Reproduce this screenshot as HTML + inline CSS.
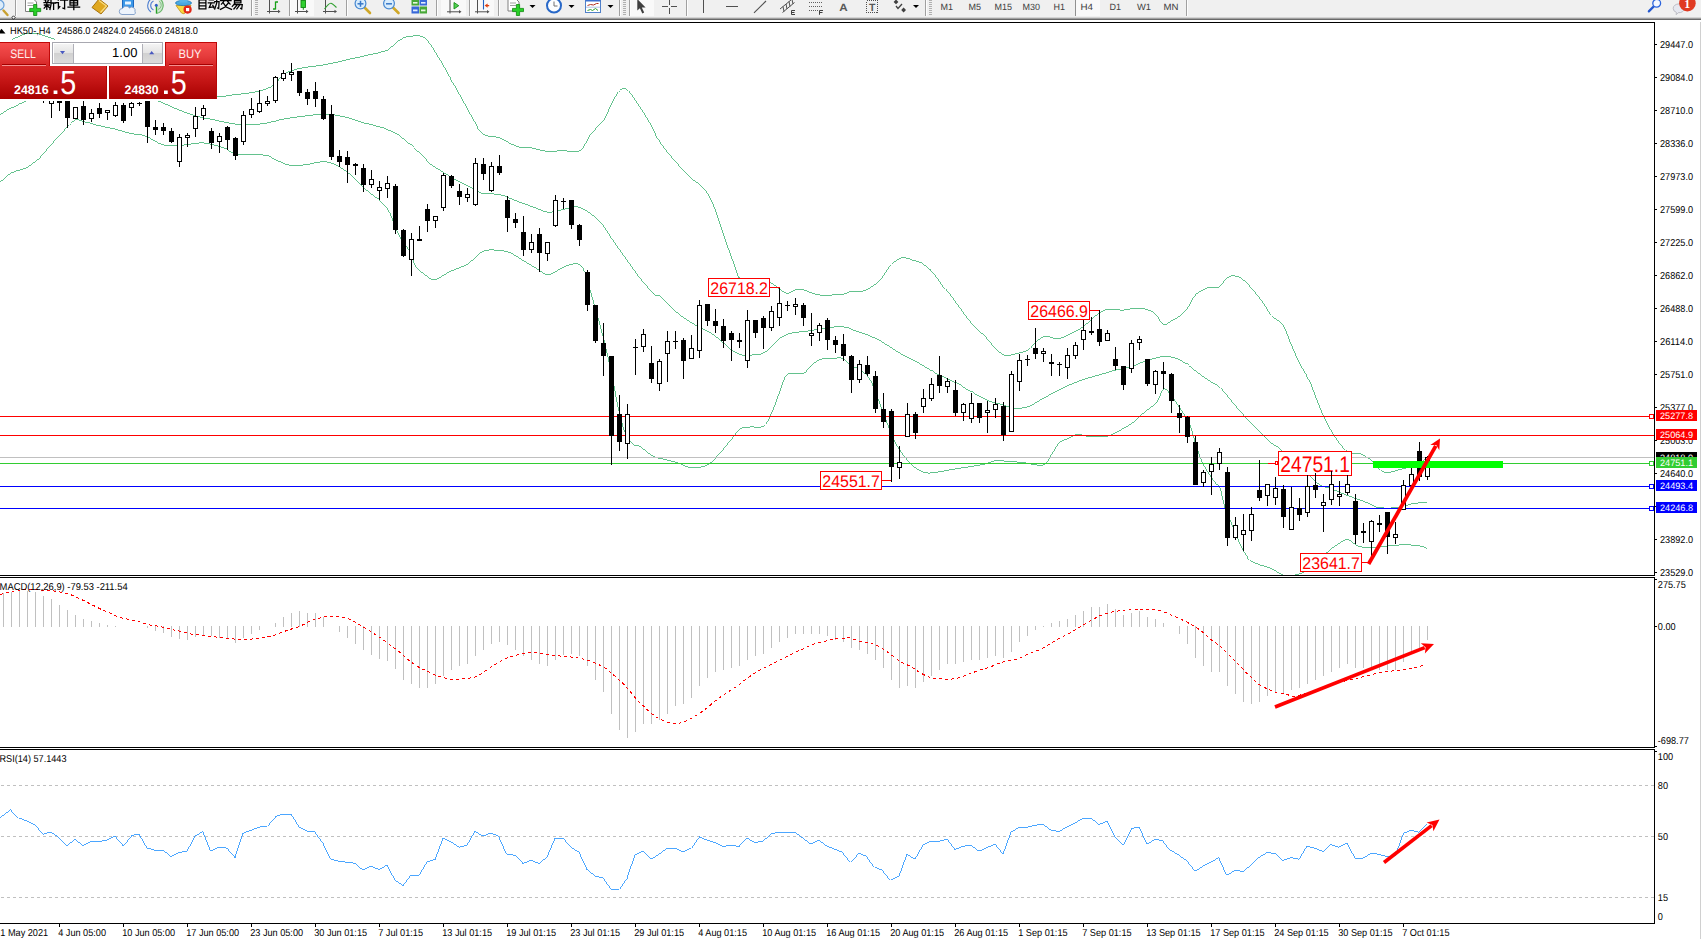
<!DOCTYPE html>
<html><head><meta charset="utf-8"><title>HK50 H4</title>
<style>
html,body{margin:0;padding:0;background:#fff;}
body{width:1701px;height:939px;position:relative;overflow:hidden;font-family:"Liberation Sans", sans-serif;}
</style></head><body>
<svg width="1701" height="939" viewBox="0 0 1701 939" style="position:absolute;left:0;top:0" font-family='"Liberation Sans", sans-serif' text-rendering="geometricPrecision">
<defs><clipPath id="cm"><rect x="0" y="23" width="1654" height="552"/></clipPath><clipPath id="cd"><rect x="0" y="578" width="1654" height="169"/></clipPath><clipPath id="cr"><rect x="0" y="750" width="1654" height="173"/></clipPath></defs>
<g shape-rendering="crispEdges" fill="#000">
<rect x="0" y="22" width="1655" height="1"/>
<rect x="0" y="575" width="1655" height="1"/>
<rect x="1654" y="22" width="1" height="554"/>
<rect x="0" y="577" width="1655" height="1"/>
<rect x="0" y="747" width="1655" height="1"/>
<rect x="1654" y="577" width="1" height="171"/>
<rect x="0" y="749" width="1655" height="1"/>
<rect x="0" y="923" width="1655" height="1"/>
<rect x="1654" y="749" width="1" height="175"/>
<rect x="1655" y="579" width="2" height="1"/>
<rect x="1655" y="626" width="2" height="1"/>
<rect x="1655" y="746" width="2" height="1"/>
<rect x="1655" y="751" width="2" height="1"/>
</g>
<rect x="1700" y="20" width="1" height="919" fill="#d0d0d0" shape-rendering="crispEdges"/>
<g clip-path="url(#cm)">
<path d="M12.0,39.5 C13.4,38.9 17.7,37.0 20.0,36.0 C22.4,35.0 24.2,34.1 26.0,33.6 C27.9,33.2 29.2,33.2 31.0,33.1 C32.9,33.1 34.5,32.8 37.0,33.4 C39.5,34.0 43.1,35.5 46.1,36.5 C49.0,37.5 53.1,38.8 54.5,39.3" fill="none" stroke="#3cb371" stroke-width="0.8" shape-rendering="crispEdges"/>
<path d="M60.1,44.5 C62.6,46.2 67.6,50.0 75.1,54.5 C82.6,59.1 94.3,67.1 105.1,72.1 C116.0,77.1 128.5,81.1 140.2,84.6 C151.9,88.0 162.5,90.9 175.2,92.8 C188.0,94.8 206.8,96.1 216.8,96.3 C226.8,96.6 229.7,95.2 235.3,94.6 C240.9,94.0 245.7,93.6 250.3,92.8 C254.9,92.1 259.1,91.3 262.8,90.1 C266.6,88.9 270.3,87.4 272.8,85.8 C275.3,84.3 275.8,82.9 277.8,80.8 C279.9,78.7 281.6,75.4 285.4,73.3 C289.1,71.2 293.7,69.8 300.4,68.3 C307.1,66.8 317.1,66.1 325.4,64.6 C333.8,63.0 342.1,60.9 350.4,59.0 C358.8,57.2 369.2,54.9 375.5,53.3 C381.7,51.7 383.8,51.8 388.0,49.5 C392.2,47.2 396.7,41.7 400.5,39.5 C404.3,37.3 406.4,36.5 410.5,36.3 C414.6,36.1 420.1,34.3 425.0,38.3 C430.0,42.2 435.9,53.5 440.1,60.0 C444.2,66.5 446.3,70.8 450.1,77.5 C453.8,84.2 458.4,92.5 462.6,100.1 C466.8,107.6 471.5,116.8 475.1,122.6 C478.6,128.3 479.7,132.0 483.9,134.6 C488.0,137.2 494.7,136.1 500.1,138.1 C505.5,140.1 511.4,144.8 516.4,146.4 C521.4,147.9 524.9,146.8 530.2,147.6 C535.4,148.4 542.3,150.9 547.7,151.4 C553.1,151.9 557.4,150.7 562.7,150.6 C568.0,150.5 575.1,153.5 579.7,150.9 C584.3,148.3 586.8,139.6 590.2,135.1 C593.7,130.6 597.7,126.8 600.3,123.8 C602.8,120.9 603.2,121.3 605.3,117.6 C607.3,113.8 610.3,105.8 612.8,101.3 C615.2,96.8 617.5,92.5 619.8,90.5 C622.1,88.5 623.9,87.7 626.5,89.3 C629.1,90.9 631.3,94.3 635.3,100.1 C639.3,105.8 646.1,116.7 650.3,123.8 C654.5,130.9 656.2,136.3 660.3,142.6 C664.5,148.9 670.3,155.5 675.3,161.4 C680.4,167.2 686.2,173.7 690.4,177.6 C694.5,181.6 697.5,182.4 700.4,185.2 C703.3,187.9 705.4,189.7 707.9,193.9 C710.4,198.1 712.5,202.5 715.4,210.2 C718.3,217.9 722.1,230.6 725.4,240.2 C728.7,249.8 733.1,261.5 735.4,267.8 C737.7,274.0 736.7,275.7 739.2,277.8 C741.6,279.8 746.7,279.6 750.2,280.0 C753.8,280.5 756.9,280.1 760.3,280.5 C763.6,280.9 767.3,281.4 770.3,282.5 C773.2,283.7 775.1,285.7 777.8,287.5 C780.5,289.3 783.6,292.9 786.5,293.3 C789.5,293.7 792.6,290.7 795.3,290.0 C798.0,289.4 800.3,289.1 802.8,289.5 C805.3,290.0 807.4,291.6 810.3,292.5 C813.2,293.5 816.8,294.6 820.3,295.0 C823.9,295.5 827.8,295.2 831.6,295.0 C835.3,294.9 839.5,294.9 842.9,294.3 C846.2,293.7 848.7,291.7 851.6,291.3 C854.5,290.9 857.2,292.4 860.4,291.8 C863.5,291.2 867.1,289.5 870.4,287.5 C873.7,285.6 877.5,283.2 880.4,280.0 C883.3,276.9 885.4,271.9 887.9,268.8 C890.4,265.6 892.8,263.1 895.4,261.3 C898.0,259.4 900.7,257.7 903.4,257.5 C906.1,257.3 908.9,259.2 911.7,260.0 C914.5,260.8 917.3,260.8 920.5,262.5 C923.6,264.2 927.1,266.7 930.5,270.0 C933.8,273.4 937.1,278.4 940.5,282.5 C943.8,286.7 947.2,290.7 950.5,295.0 C953.8,299.4 956.7,303.8 960.5,308.8 C964.3,313.8 968.9,320.5 973.0,325.1 C977.1,329.7 981.8,333.0 985.0,336.3 C988.3,339.7 989.4,342.0 992.5,345.1 C995.7,348.2 1000.1,353.7 1003.8,355.1 C1007.6,356.6 1011.1,354.7 1015.1,353.9 C1019.0,353.0 1024.2,352.0 1027.6,350.1 C1030.9,348.2 1032.2,344.9 1035.1,342.6 C1038.0,340.3 1041.4,337.0 1045.1,336.4 C1048.9,335.7 1053.9,339.1 1057.6,338.9 C1061.4,338.7 1064.3,336.6 1067.6,335.1 C1071.0,333.6 1074.7,331.8 1077.6,330.1 C1080.6,328.4 1082.0,327.6 1085.2,325.1 C1088.3,322.6 1092.7,317.7 1096.4,315.1 C1100.2,312.5 1103.3,310.2 1107.7,309.3 C1112.1,308.5 1117.5,310.3 1122.7,310.1 C1127.9,309.9 1133.8,307.7 1139.0,308.1 C1144.2,308.5 1149.9,309.9 1154.0,312.6 C1158.0,315.3 1160.1,323.1 1163.3,324.3 C1166.4,325.6 1169.9,321.5 1172.8,320.1 C1175.6,318.6 1177.8,317.7 1180.3,315.6 C1182.8,313.5 1185.3,311.0 1187.8,307.6 C1190.3,304.2 1192.6,298.1 1195.3,295.1 C1198.0,292.0 1201.6,290.6 1204.1,289.3 C1206.6,288.0 1207.8,287.9 1210.3,287.5 C1212.8,287.2 1216.4,288.6 1219.1,287.0 C1221.8,285.5 1224.1,280.2 1226.6,278.3 C1229.1,276.4 1231.4,275.6 1234.1,275.8 C1236.8,276.0 1239.5,277.0 1242.9,279.5 C1246.2,282.1 1250.8,287.5 1254.1,291.3 C1257.5,295.1 1260.0,298.5 1262.9,302.6 C1265.8,306.6 1268.3,311.8 1271.6,315.6 C1275.0,319.3 1279.8,320.6 1282.9,325.1 C1286.0,329.6 1287.7,336.4 1290.4,342.6 C1293.1,348.9 1296.0,356.4 1299.2,362.6 C1302.3,368.9 1306.1,373.5 1309.2,380.2 C1312.3,386.8 1315.2,396.0 1317.9,402.7 C1320.7,409.4 1322.5,414.4 1325.5,420.2 C1328.4,426.1 1332.1,432.7 1335.5,437.7 C1338.8,442.7 1342.8,447.7 1345.5,450.3 C1348.2,452.8 1349.2,452.6 1351.7,453.3 C1354.2,453.9 1357.0,452.6 1360.5,454.0 C1364.0,455.4 1369.7,458.8 1373.0,461.5 C1376.4,464.2 1378.5,468.5 1380.5,470.3 C1382.5,472.1 1383.5,471.9 1385.0,472.3 C1386.6,472.6 1386.6,473.1 1389.9,472.4 C1393.2,471.7 1401.2,469.0 1404.9,468.2 C1408.5,467.3 1409.4,468.0 1411.9,467.2 C1414.4,466.3 1417.3,464.5 1419.9,463.0 C1422.4,461.4 1426.0,458.8 1427.3,458.0" fill="none" stroke="#3cb371" stroke-width="0.8" shape-rendering="crispEdges"/>
<path d="M0.0,114.6 C2.1,113.4 8.3,109.3 12.5,107.1 C16.7,104.9 20.4,103.7 25.0,101.6 C29.6,99.5 27.5,96.0 40.1,94.6 C52.6,93.2 83.4,92.9 100.1,93.3 C116.8,93.8 130.6,95.8 140.2,97.1 C149.8,98.3 151.9,99.0 157.7,100.8 C163.5,102.7 169.0,105.9 175.2,108.4 C181.5,110.9 189.0,114.0 195.2,115.9 C201.5,117.7 206.1,118.2 212.8,119.6 C219.4,121.0 229.0,123.3 235.3,124.1 C241.6,125.0 245.3,124.8 250.3,124.6 C255.3,124.5 260.3,124.2 265.3,123.4 C270.3,122.5 274.5,120.7 280.4,119.6 C286.2,118.5 293.3,117.5 300.4,116.6 C307.5,115.7 317.1,114.4 322.9,114.1 C328.7,113.9 330.8,114.4 335.4,115.1 C340.0,115.8 345.4,117.0 350.4,118.4 C355.4,119.7 360.5,121.9 365.5,123.4 C370.5,124.8 375.5,125.5 380.5,127.1 C385.5,128.8 390.5,130.5 395.5,133.4 C400.5,136.3 405.6,140.5 410.5,144.7 C415.4,148.8 421.8,155.2 425.0,158.4 C428.3,161.6 426.9,161.5 430.0,163.9 C433.2,166.2 439.2,169.8 443.8,172.6 C448.4,175.5 452.8,178.3 457.6,180.9 C462.4,183.5 468.4,186.3 472.6,188.4 C476.8,190.5 478.0,192.4 482.6,193.4 C487.2,194.5 494.3,193.3 500.1,194.7 C506.0,196.0 511.8,199.3 517.6,201.4 C523.5,203.6 530.2,205.9 535.2,207.7 C540.2,209.5 543.5,211.8 547.7,212.2 C551.9,212.6 556.0,211.0 560.2,210.2 C564.4,209.4 569.4,207.6 572.7,207.2 C576.1,206.8 576.9,206.3 580.2,207.7 C583.6,209.0 589.0,212.3 592.7,215.2 C596.5,218.1 599.4,221.0 602.8,225.2 C606.1,229.4 609.0,234.8 612.8,240.2 C616.5,245.6 621.1,251.9 625.3,257.7 C629.5,263.6 633.6,269.8 637.8,275.3 C642.0,280.7 647.4,287.0 650.3,290.3 C653.2,293.6 653.7,294.3 655.3,295.3 C657.0,296.3 657.2,294.0 660.1,296.3 C663.0,298.5 668.5,305.1 672.6,308.8 C676.8,312.6 681.0,315.9 685.2,318.8 C689.3,321.7 693.5,324.0 697.7,326.3 C701.8,328.6 706.4,330.3 710.2,332.6 C713.9,334.9 716.9,337.4 720.2,340.1 C723.5,342.8 726.9,346.4 730.2,348.9 C733.6,351.3 736.9,353.6 740.2,354.6 C743.6,355.7 746.5,355.3 750.2,355.1 C754.0,354.9 759.0,355.0 762.8,353.4 C766.5,351.7 769.8,347.7 772.8,345.1 C775.7,342.6 777.4,340.1 780.3,338.1 C783.2,336.1 787.0,334.4 790.3,333.3 C793.6,332.3 797.0,332.3 800.3,331.8 C803.6,331.4 807.0,331.3 810.3,330.8 C813.7,330.3 816.6,329.5 820.3,328.8 C824.1,328.2 828.7,327.4 832.8,327.1 C837.0,326.8 841.6,326.5 845.4,327.1 C849.1,327.7 851.6,329.5 855.4,330.8 C859.1,332.2 863.7,333.4 867.9,335.1 C872.1,336.8 876.2,338.6 880.4,340.9 C884.6,343.1 888.7,346.3 892.9,348.9 C897.1,351.4 901.3,354.1 905.4,356.4 C909.6,358.7 913.8,360.3 917.9,362.6 C922.1,364.9 926.7,368.0 930.5,370.1 C934.2,372.3 936.3,373.6 940.5,375.6 C944.6,377.7 950.5,380.0 955.5,382.7 C960.5,385.3 965.6,388.7 970.5,391.4 C975.4,394.1 981.8,397.3 985.0,398.9 C988.3,400.6 987.1,400.5 990.0,401.4 C993.0,402.4 998.6,403.6 1002.6,404.7 C1006.5,405.8 1009.6,407.8 1013.8,408.2 C1018.0,408.6 1023.2,408.3 1027.6,406.9 C1032.0,405.6 1035.5,402.7 1040.1,400.2 C1044.7,397.7 1050.1,394.5 1055.1,391.9 C1060.1,389.3 1065.1,386.8 1070.1,384.7 C1075.1,382.5 1080.2,380.6 1085.2,378.9 C1090.2,377.2 1095.2,376.1 1100.2,374.7 C1105.2,373.2 1110.2,371.4 1115.2,370.2 C1120.2,368.9 1126.0,368.1 1130.2,366.9 C1134.4,365.7 1136.5,364.5 1140.2,363.1 C1144.0,361.8 1148.8,360.0 1152.7,358.9 C1156.7,357.8 1160.3,356.5 1164.0,356.4 C1167.8,356.3 1171.5,356.9 1175.3,358.1 C1179.0,359.4 1182.8,361.5 1186.5,363.9 C1190.3,366.3 1193.8,369.7 1197.8,372.7 C1201.8,375.6 1206.6,378.9 1210.3,381.4 C1214.1,383.9 1216.6,384.1 1220.3,387.7 C1224.1,391.2 1228.7,397.8 1232.8,402.7 C1237.0,407.6 1241.2,412.6 1245.4,417.2 C1249.5,421.8 1253.7,426.1 1257.9,430.2 C1262.0,434.4 1266.6,439.1 1270.4,442.2 C1274.1,445.4 1276.5,445.5 1280.4,449.0 C1284.3,452.5 1289.0,458.5 1293.9,463.0 C1298.9,467.5 1305.6,472.3 1309.9,476.0 C1314.3,479.6 1316.3,482.8 1319.9,485.0 C1323.6,487.1 1327.6,487.3 1331.9,489.0 C1336.2,490.6 1341.2,493.1 1345.9,495.0 C1350.6,496.8 1355.9,498.5 1359.9,500.0 C1363.9,501.5 1366.9,502.7 1369.9,503.9 C1372.9,505.2 1373.9,506.9 1377.9,507.5 C1381.9,508.2 1389.5,508.2 1393.9,507.9 C1398.2,507.7 1400.5,506.7 1403.9,505.9 C1407.2,505.2 1410.0,504.2 1413.9,503.5 C1417.8,502.9 1425.0,502.2 1427.3,502.0" fill="none" stroke="#3cb371" stroke-width="0.8" shape-rendering="crispEdges"/>
<path d="M0.0,182.2 C2.1,180.5 8.3,174.5 12.5,172.2 C16.7,169.9 20.9,170.5 25.0,168.4 C29.2,166.3 33.4,163.4 37.5,159.7 C41.7,155.9 45.9,150.5 50.1,145.9 C54.2,141.3 58.4,136.4 62.6,132.1 C66.8,127.8 71.3,121.8 75.1,120.1 C78.8,118.5 80.9,121.2 85.1,122.1 C89.3,123.1 95.1,124.7 100.1,125.9 C105.1,127.0 110.1,127.9 115.1,129.1 C120.2,130.4 125.2,132.3 130.2,133.4 C135.2,134.5 139.8,134.0 145.2,135.9 C150.6,137.8 156.9,143.1 162.7,144.7 C168.5,146.2 174.0,145.7 180.2,145.4 C186.5,145.1 194.8,143.0 200.3,142.9 C205.7,142.8 208.6,143.7 212.8,144.7 C216.9,145.6 221.3,146.8 225.3,148.4 C229.2,150.0 229.9,153.0 236.5,154.2 C243.2,155.3 258.9,154.2 265.3,155.2 C271.8,156.1 271.2,158.0 275.3,159.7 C279.5,161.4 285.4,164.6 290.4,165.4 C295.4,166.3 300.0,165.3 305.4,164.7 C310.8,164.1 317.9,161.7 322.9,161.7 C327.9,161.7 330.8,162.5 335.4,164.7 C340.0,166.8 345.8,170.9 350.4,174.7 C355.0,178.4 358.8,183.5 363.0,187.2 C367.1,191.0 371.3,193.5 375.5,197.2 C379.6,201.0 384.6,204.7 388.0,209.7 C391.3,214.7 393.0,221.8 395.5,227.3 C398.0,232.7 400.5,238.1 403.0,242.3 C405.5,246.4 408.5,248.5 410.5,252.3 C412.5,256.1 412.6,261.5 415.0,265.3 C417.4,269.0 421.7,272.4 425.0,274.8 C428.4,277.1 430.9,280.1 435.0,279.5 C439.2,279.0 444.6,274.1 450.1,271.5 C455.5,268.9 462.2,267.3 467.6,264.0 C473.0,260.7 477.6,253.8 482.6,251.5 C487.6,249.2 493.0,250.0 497.6,250.2 C502.2,250.4 506.0,251.1 510.1,252.7 C514.3,254.4 518.5,257.7 522.7,260.3 C526.8,262.8 531.0,265.4 535.2,267.8 C539.3,270.1 543.5,274.3 547.7,274.5 C551.9,274.7 556.4,270.7 560.2,269.0 C564.0,267.3 567.1,265.3 570.2,264.5 C573.3,263.8 576.5,263.1 579.0,264.5 C581.5,265.9 583.1,267.6 585.2,272.8 C587.3,277.9 589.0,286.6 591.5,295.3 C594.0,304.0 597.4,315.1 600.1,325.1 C602.7,335.1 605.3,345.1 607.6,355.1 C609.9,365.1 611.9,376.0 613.8,385.2 C615.7,394.3 616.9,402.3 618.8,410.2 C620.7,418.1 622.8,427.1 625.1,432.7 C627.4,438.3 630.1,441.7 632.6,444.0 C635.1,446.3 636.8,444.5 640.1,446.5 C643.4,448.5 648.4,453.8 652.6,456.0 C656.8,458.2 661.0,458.4 665.1,459.5 C669.3,460.6 673.3,461.4 677.6,462.8 C682.0,464.1 686.4,467.4 691.4,467.8 C696.4,468.1 702.9,467.3 707.7,464.8 C712.5,462.3 716.0,457.2 720.2,452.7 C724.4,448.2 729.4,441.7 732.7,437.7 C736.1,433.8 737.3,430.8 740.2,429.0 C743.1,427.2 746.3,427.5 750.2,427.0 C754.2,426.4 760.3,428.5 764.0,425.7 C767.8,422.9 770.1,416.1 772.8,410.2 C775.5,404.3 778.0,396.0 780.3,390.2 C782.6,384.3 784.0,377.9 786.5,375.1 C789.0,372.3 792.4,373.7 795.3,373.4 C798.2,373.1 801.6,374.3 804.1,373.1 C806.6,372.0 807.6,368.7 810.3,366.4 C813.0,364.1 816.6,360.7 820.3,359.4 C824.1,358.0 829.1,358.5 832.8,358.4 C836.6,358.2 839.9,357.2 842.9,358.4 C845.8,359.5 847.4,363.2 850.4,365.1 C853.3,367.1 857.0,367.6 860.4,370.1 C863.7,372.6 867.1,374.3 870.4,380.2 C873.7,386.0 877.5,397.7 880.4,405.2 C883.3,412.7 885.4,418.9 887.9,425.2 C890.4,431.5 892.5,437.3 895.4,442.7 C898.3,448.2 902.1,453.6 905.4,457.7 C908.8,461.9 912.1,465.3 915.4,467.8 C918.8,470.3 922.1,472.0 925.5,472.8 C928.8,473.5 931.3,472.8 935.5,472.3 C939.6,471.8 945.5,470.6 950.5,469.8 C955.5,468.9 959.7,468.2 965.5,467.3 C971.3,466.3 980.1,465.1 985.0,464.0 C990.0,462.9 990.9,461.2 995.0,460.8 C999.2,460.3 1005.1,461.2 1010.1,461.5 C1015.1,461.8 1020.9,462.2 1025.1,462.8 C1029.3,463.3 1031.8,464.6 1035.1,464.8 C1038.4,465.0 1042.2,466.0 1045.1,464.0 C1048.0,462.0 1050.1,456.4 1052.6,452.8 C1055.1,449.1 1057.2,444.7 1060.1,442.2 C1063.0,439.7 1067.2,439.0 1070.1,437.7 C1073.1,436.4 1074.3,434.7 1077.6,434.5 C1081.0,434.3 1085.2,436.2 1090.2,436.5 C1095.2,436.7 1102.7,437.0 1107.7,436.0 C1112.7,434.9 1116.0,432.4 1120.2,430.2 C1124.4,428.0 1128.5,425.8 1132.7,422.7 C1136.9,419.6 1141.3,414.8 1145.2,411.5 C1149.2,408.1 1153.4,406.4 1156.5,402.7 C1159.6,398.9 1161.3,389.8 1164.0,388.9 C1166.7,388.1 1170.1,394.3 1172.8,397.7 C1175.5,401.0 1177.6,404.8 1180.3,408.9 C1183.0,413.1 1186.5,417.1 1189.0,422.7 C1191.5,428.3 1193.4,436.9 1195.3,442.7 C1197.2,448.6 1198.4,453.2 1200.3,457.8 C1202.2,462.3 1204.1,466.1 1206.6,470.3 C1209.1,474.4 1213.1,479.8 1215.3,482.8 C1217.6,485.7 1218.4,483.8 1220.0,488.0 C1221.6,492.2 1223.3,502.6 1225.0,507.9 C1226.6,513.3 1228.3,515.9 1230.0,519.9 C1231.6,523.9 1233.0,527.3 1235.0,531.9 C1237.0,536.6 1239.5,543.3 1242.0,547.9 C1244.5,552.6 1247.0,557.1 1250.0,559.9 C1253.0,562.7 1256.6,563.6 1260.0,564.9 C1263.3,566.2 1266.1,566.2 1269.9,567.9 C1273.8,569.6 1279.8,573.6 1282.9,574.9 C1286.1,576.2 1286.9,575.9 1288.9,575.9 C1290.9,575.9 1292.4,575.6 1294.9,574.9 C1297.4,574.2 1300.4,573.9 1303.9,571.9 C1307.4,569.9 1311.6,566.6 1315.9,562.9 C1320.2,559.2 1325.9,553.3 1329.9,549.9 C1333.9,546.6 1336.9,544.7 1339.9,542.9 C1342.9,541.2 1345.2,539.2 1347.9,539.5 C1350.6,539.9 1353.2,543.6 1355.9,544.9 C1358.6,546.3 1361.2,547.0 1363.9,547.5 C1366.6,548.0 1369.2,548.1 1371.9,547.9 C1374.5,547.7 1376.9,546.7 1379.9,546.3 C1382.9,546.0 1386.5,546.2 1389.9,545.9 C1393.2,545.7 1396.5,545.1 1399.9,544.9 C1403.2,544.8 1406.5,544.8 1409.9,544.9 C1413.2,545.1 1417.0,545.4 1419.9,545.9 C1422.8,546.5 1426.0,547.9 1427.3,548.3" fill="none" stroke="#3cb371" stroke-width="0.8" shape-rendering="crispEdges"/>
<g shape-rendering="crispEdges">
<rect x="0" y="416" width="1654" height="1" fill="#ff0000"/>
<rect x="0" y="435" width="1654" height="1" fill="#ff0000"/>
<rect x="0" y="457" width="1654" height="1" fill="#c0c0c0"/>
<rect x="0" y="463" width="1654" height="1" fill="#32cd32"/>
<rect x="0" y="486" width="1654" height="1" fill="#0000ff"/>
<rect x="0" y="508" width="1654" height="1" fill="#0000ff"/>
</g>
<rect x="708.5" y="278.5" width="61" height="18" fill="#fff" stroke="#ff0000" stroke-width="1" shape-rendering="crispEdges"/>
<text x="739.1" y="294.1" font-size="16.9" fill="#ff0000" text-anchor="middle" textLength="57.6" lengthAdjust="spacingAndGlyphs">26718.2</text>
<rect x="770" y="287" width="10" height="1" fill="#ff0000" shape-rendering="crispEdges"/>
<rect x="820.5" y="471.5" width="61" height="18" fill="#fff" stroke="#ff0000" stroke-width="1" shape-rendering="crispEdges"/>
<text x="851.1" y="487.1" font-size="16.9" fill="#ff0000" text-anchor="middle" textLength="57.6" lengthAdjust="spacingAndGlyphs">24551.7</text>
<rect x="882" y="480" width="9" height="1" fill="#ff0000" shape-rendering="crispEdges"/>
<rect x="1028.5" y="301.5" width="61" height="18" fill="#fff" stroke="#ff0000" stroke-width="1" shape-rendering="crispEdges"/>
<text x="1059.1" y="317.1" font-size="16.9" fill="#ff0000" text-anchor="middle" textLength="57.6" lengthAdjust="spacingAndGlyphs">26466.9</text>
<rect x="1090" y="310" width="9" height="1" fill="#ff0000" shape-rendering="crispEdges"/>
<rect x="1300.5" y="553.5" width="61" height="18" fill="#fff" stroke="#ff0000" stroke-width="1" shape-rendering="crispEdges"/>
<text x="1331.1" y="569.1" font-size="16.9" fill="#ff0000" text-anchor="middle" textLength="57.6" lengthAdjust="spacingAndGlyphs">23641.7</text>
<rect x="1362" y="562" width="7" height="1" fill="#ff0000" shape-rendering="crispEdges"/>
<rect x="1278.5" y="451.5" width="73" height="24" fill="#fff" stroke="#ff0000" stroke-width="1" shape-rendering="crispEdges"/>
<text x="1315.1" y="472.0" font-size="22.5" fill="#ff0000" text-anchor="middle" textLength="69.6" lengthAdjust="spacingAndGlyphs">24751.1</text>
<rect x="1268" y="463" width="8" height="1" fill="#ff0000" shape-rendering="crispEdges"/><rect x="1275.5" y="461.5" width="2" height="3" fill="#fff" stroke="#ff0000" stroke-width="1" shape-rendering="crispEdges"/>
<g shape-rendering="crispEdges">
<rect x="43" y="85" width="1" height="18" fill="#000"/>
<rect x="41" y="86" width="5" height="11" fill="#000"/>
<rect x="51" y="85" width="1" height="33" fill="#000"/>
<rect x="49" y="95" width="5" height="9" fill="#000"/>
<rect x="50" y="96" width="3" height="7" fill="#fff"/>
<rect x="59" y="85" width="1" height="26" fill="#000"/>
<rect x="57" y="97" width="5" height="6" fill="#000"/>
<rect x="67" y="96" width="1" height="32" fill="#000"/>
<rect x="65" y="99" width="5" height="19" fill="#000"/>
<rect x="75" y="107" width="1" height="12" fill="#000"/>
<rect x="73" y="107" width="5" height="12" fill="#000"/>
<rect x="74" y="108" width="3" height="10" fill="#fff"/>
<rect x="83" y="101" width="1" height="24" fill="#000"/>
<rect x="81" y="106" width="5" height="14" fill="#000"/>
<rect x="91" y="109" width="1" height="13" fill="#000"/>
<rect x="89" y="113" width="5" height="6" fill="#000"/>
<rect x="90" y="114" width="3" height="4" fill="#fff"/>
<rect x="99" y="103" width="1" height="15" fill="#000"/>
<rect x="97" y="108" width="5" height="6" fill="#000"/>
<rect x="107" y="110" width="1" height="10" fill="#000"/>
<rect x="105" y="110" width="5" height="3" fill="#000"/>
<rect x="106" y="111" width="3" height="1" fill="#fff"/>
<rect x="115" y="102" width="1" height="15" fill="#000"/>
<rect x="113" y="105" width="5" height="11" fill="#000"/>
<rect x="114" y="106" width="3" height="9" fill="#fff"/>
<rect x="123" y="103" width="1" height="20" fill="#000"/>
<rect x="121" y="105" width="5" height="16" fill="#000"/>
<rect x="131" y="102" width="1" height="14" fill="#000"/>
<rect x="129" y="103" width="5" height="5" fill="#000"/>
<rect x="130" y="104" width="3" height="3" fill="#fff"/>
<rect x="139" y="102" width="1" height="4" fill="#000"/>
<rect x="137" y="103" width="5" height="1" fill="#000"/>
<rect x="147" y="97" width="1" height="46" fill="#000"/>
<rect x="145" y="101" width="5" height="26" fill="#000"/>
<rect x="155" y="120" width="1" height="15" fill="#000"/>
<rect x="153" y="127" width="5" height="3" fill="#000"/>
<rect x="163" y="123" width="1" height="12" fill="#000"/>
<rect x="161" y="127" width="5" height="4" fill="#000"/>
<rect x="171" y="128" width="1" height="15" fill="#000"/>
<rect x="169" y="131" width="5" height="11" fill="#000"/>
<rect x="179" y="134" width="1" height="33" fill="#000"/>
<rect x="177" y="137" width="5" height="25" fill="#000"/>
<rect x="178" y="138" width="3" height="23" fill="#fff"/>
<rect x="187" y="133" width="1" height="14" fill="#000"/>
<rect x="185" y="135" width="5" height="3" fill="#000"/>
<rect x="186" y="136" width="3" height="1" fill="#fff"/>
<rect x="195" y="107" width="1" height="30" fill="#000"/>
<rect x="193" y="116" width="5" height="13" fill="#000"/>
<rect x="194" y="117" width="3" height="11" fill="#fff"/>
<rect x="203" y="105" width="1" height="15" fill="#000"/>
<rect x="201" y="108" width="5" height="8" fill="#000"/>
<rect x="202" y="109" width="3" height="6" fill="#fff"/>
<rect x="211" y="128" width="1" height="21" fill="#000"/>
<rect x="209" y="131" width="5" height="12" fill="#000"/>
<rect x="219" y="133" width="1" height="20" fill="#000"/>
<rect x="217" y="136" width="5" height="6" fill="#000"/>
<rect x="218" y="137" width="3" height="4" fill="#fff"/>
<rect x="227" y="126" width="1" height="24" fill="#000"/>
<rect x="225" y="127" width="5" height="13" fill="#000"/>
<rect x="235" y="137" width="1" height="23" fill="#000"/>
<rect x="233" y="138" width="5" height="18" fill="#000"/>
<rect x="243" y="111" width="1" height="34" fill="#000"/>
<rect x="241" y="115" width="5" height="27" fill="#000"/>
<rect x="242" y="116" width="3" height="25" fill="#fff"/>
<rect x="251" y="98" width="1" height="20" fill="#000"/>
<rect x="249" y="109" width="5" height="6" fill="#000"/>
<rect x="250" y="110" width="3" height="4" fill="#fff"/>
<rect x="259" y="90" width="1" height="23" fill="#000"/>
<rect x="257" y="103" width="5" height="9" fill="#000"/>
<rect x="258" y="104" width="3" height="7" fill="#fff"/>
<rect x="267" y="96" width="1" height="10" fill="#000"/>
<rect x="265" y="101" width="5" height="3" fill="#000"/>
<rect x="266" y="102" width="3" height="1" fill="#fff"/>
<rect x="275" y="76" width="1" height="27" fill="#000"/>
<rect x="273" y="77" width="5" height="24" fill="#000"/>
<rect x="274" y="78" width="3" height="22" fill="#fff"/>
<rect x="283" y="70" width="1" height="11" fill="#000"/>
<rect x="281" y="73" width="5" height="6" fill="#000"/>
<rect x="282" y="74" width="3" height="4" fill="#fff"/>
<rect x="291" y="63" width="1" height="18" fill="#000"/>
<rect x="289" y="72" width="5" height="3" fill="#000"/>
<rect x="290" y="73" width="3" height="1" fill="#fff"/>
<rect x="299" y="71" width="1" height="25" fill="#000"/>
<rect x="297" y="71" width="5" height="22" fill="#000"/>
<rect x="307" y="89" width="1" height="16" fill="#000"/>
<rect x="305" y="92" width="5" height="7" fill="#000"/>
<rect x="315" y="82" width="1" height="25" fill="#000"/>
<rect x="313" y="91" width="5" height="8" fill="#000"/>
<rect x="323" y="96" width="1" height="24" fill="#000"/>
<rect x="321" y="99" width="5" height="20" fill="#000"/>
<rect x="331" y="105" width="1" height="55" fill="#000"/>
<rect x="329" y="114" width="5" height="43" fill="#000"/>
<rect x="339" y="150" width="1" height="17" fill="#000"/>
<rect x="337" y="156" width="5" height="6" fill="#000"/>
<rect x="347" y="151" width="1" height="32" fill="#000"/>
<rect x="345" y="157" width="5" height="8" fill="#000"/>
<rect x="355" y="163" width="1" height="12" fill="#000"/>
<rect x="353" y="164" width="5" height="2" fill="#000"/>
<rect x="363" y="164" width="1" height="28" fill="#000"/>
<rect x="361" y="168" width="5" height="17" fill="#000"/>
<rect x="371" y="170" width="1" height="18" fill="#000"/>
<rect x="369" y="179" width="5" height="6" fill="#000"/>
<rect x="370" y="180" width="3" height="4" fill="#fff"/>
<rect x="379" y="181" width="1" height="19" fill="#000"/>
<rect x="377" y="187" width="5" height="4" fill="#000"/>
<rect x="378" y="188" width="3" height="2" fill="#fff"/>
<rect x="387" y="176" width="1" height="22" fill="#000"/>
<rect x="385" y="183" width="5" height="6" fill="#000"/>
<rect x="386" y="184" width="3" height="4" fill="#fff"/>
<rect x="395" y="184" width="1" height="50" fill="#000"/>
<rect x="393" y="186" width="5" height="44" fill="#000"/>
<rect x="403" y="229" width="1" height="28" fill="#000"/>
<rect x="401" y="230" width="5" height="26" fill="#000"/>
<rect x="411" y="233" width="1" height="43" fill="#000"/>
<rect x="409" y="239" width="5" height="21" fill="#000"/>
<rect x="410" y="240" width="3" height="19" fill="#fff"/>
<rect x="419" y="226" width="1" height="15" fill="#000"/>
<rect x="417" y="239" width="5" height="2" fill="#000"/>
<rect x="427" y="204" width="1" height="28" fill="#000"/>
<rect x="425" y="209" width="5" height="12" fill="#000"/>
<rect x="435" y="216" width="1" height="12" fill="#000"/>
<rect x="433" y="216" width="5" height="5" fill="#000"/>
<rect x="434" y="217" width="3" height="3" fill="#fff"/>
<rect x="443" y="173" width="1" height="38" fill="#000"/>
<rect x="441" y="175" width="5" height="33" fill="#000"/>
<rect x="442" y="176" width="3" height="31" fill="#fff"/>
<rect x="451" y="175" width="1" height="13" fill="#000"/>
<rect x="449" y="176" width="5" height="10" fill="#000"/>
<rect x="459" y="184" width="1" height="21" fill="#000"/>
<rect x="457" y="191" width="5" height="6" fill="#000"/>
<rect x="467" y="188" width="1" height="14" fill="#000"/>
<rect x="465" y="194" width="5" height="4" fill="#000"/>
<rect x="466" y="195" width="3" height="2" fill="#fff"/>
<rect x="475" y="158" width="1" height="48" fill="#000"/>
<rect x="473" y="163" width="5" height="42" fill="#000"/>
<rect x="474" y="164" width="3" height="40" fill="#fff"/>
<rect x="483" y="158" width="1" height="22" fill="#000"/>
<rect x="481" y="164" width="5" height="10" fill="#000"/>
<rect x="491" y="162" width="1" height="30" fill="#000"/>
<rect x="489" y="166" width="5" height="25" fill="#000"/>
<rect x="490" y="167" width="3" height="23" fill="#fff"/>
<rect x="499" y="155" width="1" height="20" fill="#000"/>
<rect x="497" y="166" width="5" height="7" fill="#000"/>
<rect x="507" y="196" width="1" height="36" fill="#000"/>
<rect x="505" y="200" width="5" height="18" fill="#000"/>
<rect x="515" y="213" width="1" height="15" fill="#000"/>
<rect x="513" y="219" width="5" height="4" fill="#000"/>
<rect x="523" y="216" width="1" height="40" fill="#000"/>
<rect x="521" y="232" width="5" height="18" fill="#000"/>
<rect x="531" y="234" width="1" height="19" fill="#000"/>
<rect x="529" y="242" width="5" height="8" fill="#000"/>
<rect x="530" y="243" width="3" height="6" fill="#fff"/>
<rect x="539" y="228" width="1" height="44" fill="#000"/>
<rect x="537" y="234" width="5" height="19" fill="#000"/>
<rect x="547" y="242" width="1" height="19" fill="#000"/>
<rect x="545" y="242" width="5" height="12" fill="#000"/>
<rect x="546" y="243" width="3" height="10" fill="#fff"/>
<rect x="555" y="195" width="1" height="32" fill="#000"/>
<rect x="553" y="200" width="5" height="26" fill="#000"/>
<rect x="554" y="201" width="3" height="24" fill="#fff"/>
<rect x="563" y="198" width="1" height="11" fill="#000"/>
<rect x="561" y="201" width="5" height="1" fill="#000"/>
<rect x="571" y="200" width="1" height="29" fill="#000"/>
<rect x="569" y="200" width="5" height="25" fill="#000"/>
<rect x="579" y="224" width="1" height="22" fill="#000"/>
<rect x="577" y="225" width="5" height="15" fill="#000"/>
<rect x="587" y="270" width="1" height="41" fill="#000"/>
<rect x="585" y="272" width="5" height="33" fill="#000"/>
<rect x="595" y="305" width="1" height="38" fill="#000"/>
<rect x="593" y="305" width="5" height="36" fill="#000"/>
<rect x="603" y="323" width="1" height="53" fill="#000"/>
<rect x="601" y="343" width="5" height="13" fill="#000"/>
<rect x="611" y="356" width="1" height="109" fill="#000"/>
<rect x="609" y="356" width="5" height="80" fill="#000"/>
<rect x="619" y="395" width="1" height="56" fill="#000"/>
<rect x="617" y="414" width="5" height="28" fill="#000"/>
<rect x="627" y="404" width="1" height="55" fill="#000"/>
<rect x="625" y="414" width="5" height="30" fill="#000"/>
<rect x="626" y="415" width="3" height="28" fill="#fff"/>
<rect x="635" y="339" width="1" height="36" fill="#000"/>
<rect x="633" y="347" width="5" height="1" fill="#000"/>
<rect x="643" y="329" width="1" height="23" fill="#000"/>
<rect x="641" y="334" width="5" height="13" fill="#000"/>
<rect x="642" y="335" width="3" height="11" fill="#fff"/>
<rect x="651" y="346" width="1" height="37" fill="#000"/>
<rect x="649" y="363" width="5" height="16" fill="#000"/>
<rect x="659" y="359" width="1" height="32" fill="#000"/>
<rect x="657" y="361" width="5" height="23" fill="#000"/>
<rect x="658" y="362" width="3" height="21" fill="#fff"/>
<rect x="667" y="331" width="1" height="51" fill="#000"/>
<rect x="665" y="341" width="5" height="13" fill="#000"/>
<rect x="666" y="342" width="3" height="11" fill="#fff"/>
<rect x="675" y="331" width="1" height="18" fill="#000"/>
<rect x="673" y="341" width="5" height="1" fill="#000"/>
<rect x="683" y="338" width="1" height="41" fill="#000"/>
<rect x="681" y="340" width="5" height="21" fill="#000"/>
<rect x="691" y="335" width="1" height="24" fill="#000"/>
<rect x="689" y="348" width="5" height="11" fill="#000"/>
<rect x="690" y="349" width="3" height="9" fill="#fff"/>
<rect x="699" y="300" width="1" height="58" fill="#000"/>
<rect x="697" y="305" width="5" height="46" fill="#000"/>
<rect x="698" y="306" width="3" height="44" fill="#fff"/>
<rect x="707" y="304" width="1" height="22" fill="#000"/>
<rect x="705" y="304" width="5" height="17" fill="#000"/>
<rect x="715" y="309" width="1" height="24" fill="#000"/>
<rect x="713" y="321" width="5" height="5" fill="#000"/>
<rect x="723" y="319" width="1" height="29" fill="#000"/>
<rect x="721" y="326" width="5" height="15" fill="#000"/>
<rect x="731" y="331" width="1" height="30" fill="#000"/>
<rect x="729" y="333" width="5" height="7" fill="#000"/>
<rect x="739" y="333" width="1" height="15" fill="#000"/>
<rect x="737" y="340" width="5" height="2" fill="#000"/>
<rect x="747" y="310" width="1" height="58" fill="#000"/>
<rect x="745" y="320" width="5" height="41" fill="#000"/>
<rect x="746" y="321" width="3" height="39" fill="#fff"/>
<rect x="755" y="320" width="1" height="18" fill="#000"/>
<rect x="753" y="320" width="5" height="13" fill="#000"/>
<rect x="763" y="316" width="1" height="33" fill="#000"/>
<rect x="761" y="318" width="5" height="10" fill="#000"/>
<rect x="771" y="306" width="1" height="25" fill="#000"/>
<rect x="769" y="311" width="5" height="17" fill="#000"/>
<rect x="770" y="312" width="3" height="15" fill="#fff"/>
<rect x="779" y="288" width="1" height="38" fill="#000"/>
<rect x="777" y="303" width="5" height="15" fill="#000"/>
<rect x="778" y="304" width="3" height="13" fill="#fff"/>
<rect x="787" y="301" width="1" height="10" fill="#000"/>
<rect x="785" y="305" width="5" height="1" fill="#000"/>
<rect x="795" y="298" width="1" height="17" fill="#000"/>
<rect x="793" y="304" width="5" height="3" fill="#000"/>
<rect x="794" y="305" width="3" height="1" fill="#fff"/>
<rect x="803" y="303" width="1" height="23" fill="#000"/>
<rect x="801" y="305" width="5" height="13" fill="#000"/>
<rect x="811" y="313" width="1" height="33" fill="#000"/>
<rect x="809" y="333" width="5" height="3" fill="#000"/>
<rect x="810" y="334" width="3" height="1" fill="#fff"/>
<rect x="819" y="323" width="1" height="18" fill="#000"/>
<rect x="817" y="325" width="5" height="8" fill="#000"/>
<rect x="818" y="326" width="3" height="6" fill="#fff"/>
<rect x="827" y="318" width="1" height="32" fill="#000"/>
<rect x="825" y="320" width="5" height="20" fill="#000"/>
<rect x="835" y="336" width="1" height="17" fill="#000"/>
<rect x="833" y="340" width="5" height="5" fill="#000"/>
<rect x="843" y="334" width="1" height="27" fill="#000"/>
<rect x="841" y="344" width="5" height="12" fill="#000"/>
<rect x="851" y="355" width="1" height="38" fill="#000"/>
<rect x="849" y="356" width="5" height="24" fill="#000"/>
<rect x="859" y="360" width="1" height="23" fill="#000"/>
<rect x="857" y="364" width="5" height="16" fill="#000"/>
<rect x="858" y="365" width="3" height="14" fill="#fff"/>
<rect x="867" y="356" width="1" height="20" fill="#000"/>
<rect x="865" y="365" width="5" height="9" fill="#000"/>
<rect x="875" y="371" width="1" height="42" fill="#000"/>
<rect x="873" y="376" width="5" height="33" fill="#000"/>
<rect x="883" y="393" width="1" height="35" fill="#000"/>
<rect x="881" y="409" width="5" height="13" fill="#000"/>
<rect x="891" y="409" width="1" height="73" fill="#000"/>
<rect x="889" y="411" width="5" height="56" fill="#000"/>
<rect x="899" y="446" width="1" height="33" fill="#000"/>
<rect x="897" y="462" width="5" height="6" fill="#000"/>
<rect x="898" y="463" width="3" height="4" fill="#fff"/>
<rect x="907" y="403" width="1" height="34" fill="#000"/>
<rect x="905" y="414" width="5" height="23" fill="#000"/>
<rect x="906" y="415" width="3" height="21" fill="#fff"/>
<rect x="915" y="412" width="1" height="27" fill="#000"/>
<rect x="913" y="414" width="5" height="19" fill="#000"/>
<rect x="923" y="389" width="1" height="24" fill="#000"/>
<rect x="921" y="398" width="5" height="9" fill="#000"/>
<rect x="922" y="399" width="3" height="7" fill="#fff"/>
<rect x="931" y="378" width="1" height="23" fill="#000"/>
<rect x="929" y="384" width="5" height="15" fill="#000"/>
<rect x="930" y="385" width="3" height="13" fill="#fff"/>
<rect x="939" y="356" width="1" height="37" fill="#000"/>
<rect x="937" y="375" width="5" height="11" fill="#000"/>
<rect x="947" y="378" width="1" height="15" fill="#000"/>
<rect x="945" y="381" width="5" height="6" fill="#000"/>
<rect x="946" y="382" width="3" height="4" fill="#fff"/>
<rect x="955" y="380" width="1" height="36" fill="#000"/>
<rect x="953" y="390" width="5" height="23" fill="#000"/>
<rect x="963" y="403" width="1" height="18" fill="#000"/>
<rect x="961" y="404" width="5" height="9" fill="#000"/>
<rect x="962" y="405" width="3" height="7" fill="#fff"/>
<rect x="971" y="393" width="1" height="30" fill="#000"/>
<rect x="969" y="403" width="5" height="16" fill="#000"/>
<rect x="970" y="404" width="3" height="14" fill="#fff"/>
<rect x="979" y="403" width="1" height="20" fill="#000"/>
<rect x="977" y="403" width="5" height="15" fill="#000"/>
<rect x="987" y="401" width="1" height="32" fill="#000"/>
<rect x="985" y="410" width="5" height="3" fill="#000"/>
<rect x="986" y="411" width="3" height="1" fill="#fff"/>
<rect x="995" y="398" width="1" height="20" fill="#000"/>
<rect x="993" y="404" width="5" height="6" fill="#000"/>
<rect x="994" y="405" width="3" height="4" fill="#fff"/>
<rect x="1003" y="402" width="1" height="39" fill="#000"/>
<rect x="1001" y="406" width="5" height="29" fill="#000"/>
<rect x="1011" y="371" width="1" height="61" fill="#000"/>
<rect x="1009" y="374" width="5" height="58" fill="#000"/>
<rect x="1010" y="375" width="3" height="56" fill="#fff"/>
<rect x="1019" y="354" width="1" height="37" fill="#000"/>
<rect x="1017" y="360" width="5" height="22" fill="#000"/>
<rect x="1018" y="361" width="3" height="20" fill="#fff"/>
<rect x="1027" y="355" width="1" height="11" fill="#000"/>
<rect x="1025" y="359" width="5" height="1" fill="#000"/>
<rect x="1035" y="328" width="1" height="31" fill="#000"/>
<rect x="1033" y="348" width="5" height="6" fill="#000"/>
<rect x="1043" y="348" width="1" height="14" fill="#000"/>
<rect x="1041" y="351" width="5" height="3" fill="#000"/>
<rect x="1042" y="352" width="3" height="1" fill="#fff"/>
<rect x="1051" y="354" width="1" height="22" fill="#000"/>
<rect x="1049" y="362" width="5" height="2" fill="#000"/>
<rect x="1059" y="362" width="1" height="14" fill="#000"/>
<rect x="1057" y="364" width="5" height="1" fill="#000"/>
<rect x="1067" y="348" width="1" height="31" fill="#000"/>
<rect x="1065" y="355" width="5" height="13" fill="#000"/>
<rect x="1066" y="356" width="3" height="11" fill="#fff"/>
<rect x="1075" y="342" width="1" height="17" fill="#000"/>
<rect x="1073" y="345" width="5" height="11" fill="#000"/>
<rect x="1074" y="346" width="3" height="9" fill="#fff"/>
<rect x="1083" y="320" width="1" height="30" fill="#000"/>
<rect x="1081" y="330" width="5" height="10" fill="#000"/>
<rect x="1082" y="331" width="3" height="8" fill="#fff"/>
<rect x="1091" y="317" width="1" height="18" fill="#000"/>
<rect x="1089" y="331" width="5" height="2" fill="#000"/>
<rect x="1099" y="310" width="1" height="36" fill="#000"/>
<rect x="1097" y="329" width="5" height="13" fill="#000"/>
<rect x="1107" y="330" width="1" height="11" fill="#000"/>
<rect x="1105" y="333" width="5" height="8" fill="#000"/>
<rect x="1106" y="334" width="3" height="6" fill="#fff"/>
<rect x="1115" y="347" width="1" height="23" fill="#000"/>
<rect x="1113" y="359" width="5" height="7" fill="#000"/>
<rect x="1123" y="366" width="1" height="24" fill="#000"/>
<rect x="1121" y="366" width="5" height="19" fill="#000"/>
<rect x="1131" y="340" width="1" height="33" fill="#000"/>
<rect x="1129" y="343" width="5" height="26" fill="#000"/>
<rect x="1130" y="344" width="3" height="24" fill="#fff"/>
<rect x="1139" y="336" width="1" height="14" fill="#000"/>
<rect x="1137" y="339" width="5" height="4" fill="#000"/>
<rect x="1138" y="340" width="3" height="2" fill="#fff"/>
<rect x="1147" y="359" width="1" height="27" fill="#000"/>
<rect x="1145" y="359" width="5" height="25" fill="#000"/>
<rect x="1155" y="370" width="1" height="24" fill="#000"/>
<rect x="1153" y="371" width="5" height="14" fill="#000"/>
<rect x="1154" y="372" width="3" height="12" fill="#fff"/>
<rect x="1163" y="362" width="1" height="27" fill="#000"/>
<rect x="1161" y="371" width="5" height="3" fill="#000"/>
<rect x="1171" y="373" width="1" height="40" fill="#000"/>
<rect x="1169" y="374" width="5" height="27" fill="#000"/>
<rect x="1179" y="405" width="1" height="28" fill="#000"/>
<rect x="1177" y="413" width="5" height="5" fill="#000"/>
<rect x="1187" y="416" width="1" height="27" fill="#000"/>
<rect x="1185" y="417" width="5" height="20" fill="#000"/>
<rect x="1195" y="436" width="1" height="49" fill="#000"/>
<rect x="1193" y="442" width="5" height="43" fill="#000"/>
<rect x="1203" y="470" width="1" height="17" fill="#000"/>
<rect x="1201" y="472" width="5" height="11" fill="#000"/>
<rect x="1202" y="473" width="3" height="9" fill="#fff"/>
<rect x="1211" y="457" width="1" height="38" fill="#000"/>
<rect x="1209" y="464" width="5" height="8" fill="#000"/>
<rect x="1210" y="465" width="3" height="6" fill="#fff"/>
<rect x="1219" y="448" width="1" height="22" fill="#000"/>
<rect x="1217" y="452" width="5" height="12" fill="#000"/>
<rect x="1218" y="453" width="3" height="10" fill="#fff"/>
<rect x="1227" y="467" width="1" height="79" fill="#000"/>
<rect x="1225" y="472" width="5" height="66" fill="#000"/>
<rect x="1235" y="517" width="1" height="23" fill="#000"/>
<rect x="1233" y="525" width="5" height="13" fill="#000"/>
<rect x="1234" y="526" width="3" height="11" fill="#fff"/>
<rect x="1243" y="514" width="1" height="37" fill="#000"/>
<rect x="1241" y="530" width="5" height="5" fill="#000"/>
<rect x="1242" y="531" width="3" height="3" fill="#fff"/>
<rect x="1251" y="507" width="1" height="34" fill="#000"/>
<rect x="1249" y="514" width="5" height="17" fill="#000"/>
<rect x="1250" y="515" width="3" height="15" fill="#fff"/>
<rect x="1259" y="460" width="1" height="41" fill="#000"/>
<rect x="1257" y="490" width="5" height="8" fill="#000"/>
<rect x="1267" y="484" width="1" height="22" fill="#000"/>
<rect x="1265" y="484" width="5" height="12" fill="#000"/>
<rect x="1266" y="485" width="3" height="10" fill="#fff"/>
<rect x="1275" y="477" width="1" height="28" fill="#000"/>
<rect x="1273" y="488" width="5" height="10" fill="#000"/>
<rect x="1274" y="489" width="3" height="8" fill="#fff"/>
<rect x="1283" y="485" width="1" height="43" fill="#000"/>
<rect x="1281" y="489" width="5" height="28" fill="#000"/>
<rect x="1291" y="487" width="1" height="43" fill="#000"/>
<rect x="1289" y="507" width="5" height="23" fill="#000"/>
<rect x="1290" y="508" width="3" height="21" fill="#fff"/>
<rect x="1299" y="498" width="1" height="23" fill="#000"/>
<rect x="1297" y="508" width="5" height="7" fill="#000"/>
<rect x="1307" y="475" width="1" height="42" fill="#000"/>
<rect x="1305" y="486" width="5" height="27" fill="#000"/>
<rect x="1306" y="487" width="3" height="25" fill="#fff"/>
<rect x="1315" y="473" width="1" height="25" fill="#000"/>
<rect x="1313" y="485" width="5" height="5" fill="#000"/>
<rect x="1323" y="494" width="1" height="38" fill="#000"/>
<rect x="1321" y="502" width="5" height="4" fill="#000"/>
<rect x="1322" y="503" width="3" height="2" fill="#fff"/>
<rect x="1331" y="471" width="1" height="34" fill="#000"/>
<rect x="1329" y="484" width="5" height="16" fill="#000"/>
<rect x="1330" y="485" width="3" height="14" fill="#fff"/>
<rect x="1339" y="481" width="1" height="25" fill="#000"/>
<rect x="1337" y="494" width="5" height="3" fill="#000"/>
<rect x="1338" y="495" width="3" height="1" fill="#fff"/>
<rect x="1347" y="475" width="1" height="20" fill="#000"/>
<rect x="1345" y="484" width="5" height="9" fill="#000"/>
<rect x="1346" y="485" width="3" height="7" fill="#fff"/>
<rect x="1355" y="494" width="1" height="50" fill="#000"/>
<rect x="1353" y="501" width="5" height="34" fill="#000"/>
<rect x="1363" y="523" width="1" height="20" fill="#000"/>
<rect x="1361" y="531" width="5" height="2" fill="#000"/>
<rect x="1371" y="520" width="1" height="42" fill="#000"/>
<rect x="1369" y="521" width="5" height="21" fill="#000"/>
<rect x="1370" y="522" width="3" height="19" fill="#fff"/>
<rect x="1379" y="515" width="1" height="17" fill="#000"/>
<rect x="1377" y="523" width="5" height="2" fill="#000"/>
<rect x="1387" y="512" width="1" height="42" fill="#000"/>
<rect x="1385" y="512" width="5" height="25" fill="#000"/>
<rect x="1395" y="522" width="1" height="22" fill="#000"/>
<rect x="1393" y="534" width="5" height="4" fill="#000"/>
<rect x="1394" y="535" width="3" height="2" fill="#fff"/>
<rect x="1403" y="480" width="1" height="30" fill="#000"/>
<rect x="1401" y="485" width="5" height="25" fill="#000"/>
<rect x="1402" y="486" width="3" height="23" fill="#fff"/>
<rect x="1411" y="468" width="1" height="19" fill="#000"/>
<rect x="1409" y="474" width="5" height="12" fill="#000"/>
<rect x="1410" y="475" width="3" height="10" fill="#fff"/>
<rect x="1419" y="442" width="1" height="39" fill="#000"/>
<rect x="1417" y="451" width="5" height="26" fill="#000"/>
<rect x="1427" y="456" width="1" height="24" fill="#000"/>
<rect x="1425" y="457" width="5" height="20" fill="#000"/>
<rect x="1426" y="458" width="3" height="18" fill="#fff"/>
</g>
<rect x="1373" y="461" width="130" height="7" fill="#00ff00" shape-rendering="crispEdges"/>
<path d="M1368.6,564.0L1435.8,445.9" stroke="#ff0000" stroke-width="3.8" stroke-linecap="butt" fill="none"/>
<path d="M1440.0,438.5L1439.3,450.2L1436.3,445.0L1430.3,445.1Z" fill="#ff0000"/>
</g>
<g clip-path="url(#cd)">
<g shape-rendering="crispEdges" fill="#c0c0c0">
<rect x="3" y="593" width="1" height="34"/>
<rect x="11" y="592" width="1" height="35"/>
<rect x="19" y="591" width="1" height="36"/>
<rect x="27" y="591" width="1" height="36"/>
<rect x="35" y="592" width="1" height="35"/>
<rect x="43" y="596" width="1" height="31"/>
<rect x="51" y="599" width="1" height="28"/>
<rect x="59" y="605" width="1" height="22"/>
<rect x="67" y="610" width="1" height="17"/>
<rect x="75" y="615" width="1" height="12"/>
<rect x="83" y="619" width="1" height="8"/>
<rect x="91" y="621" width="1" height="6"/>
<rect x="99" y="623" width="1" height="4"/>
<rect x="107" y="625" width="1" height="2"/>
<rect x="115" y="626" width="1" height="1"/>
<rect x="147" y="626" width="1" height="2"/>
<rect x="155" y="626" width="1" height="5"/>
<rect x="163" y="626" width="1" height="7"/>
<rect x="171" y="626" width="1" height="11"/>
<rect x="179" y="626" width="1" height="13"/>
<rect x="187" y="626" width="1" height="14"/>
<rect x="195" y="626" width="1" height="11"/>
<rect x="203" y="626" width="1" height="9"/>
<rect x="211" y="626" width="1" height="10"/>
<rect x="219" y="626" width="1" height="12"/>
<rect x="227" y="626" width="1" height="13"/>
<rect x="235" y="626" width="1" height="17"/>
<rect x="243" y="626" width="1" height="12"/>
<rect x="251" y="626" width="1" height="8"/>
<rect x="259" y="626" width="1" height="4"/>
<rect x="275" y="623" width="1" height="4"/>
<rect x="283" y="617" width="1" height="10"/>
<rect x="291" y="613" width="1" height="14"/>
<rect x="299" y="611" width="1" height="16"/>
<rect x="307" y="613" width="1" height="14"/>
<rect x="315" y="613" width="1" height="14"/>
<rect x="323" y="617" width="1" height="10"/>
<rect x="339" y="626" width="1" height="6"/>
<rect x="347" y="626" width="1" height="12"/>
<rect x="355" y="626" width="1" height="18"/>
<rect x="363" y="626" width="1" height="24"/>
<rect x="371" y="626" width="1" height="29"/>
<rect x="379" y="626" width="1" height="33"/>
<rect x="387" y="626" width="1" height="35"/>
<rect x="395" y="626" width="1" height="43"/>
<rect x="403" y="626" width="1" height="54"/>
<rect x="411" y="626" width="1" height="58"/>
<rect x="419" y="626" width="1" height="62"/>
<rect x="427" y="626" width="1" height="62"/>
<rect x="435" y="626" width="1" height="58"/>
<rect x="443" y="626" width="1" height="50"/>
<rect x="451" y="626" width="1" height="44"/>
<rect x="459" y="626" width="1" height="40"/>
<rect x="467" y="626" width="1" height="38"/>
<rect x="475" y="626" width="1" height="30"/>
<rect x="483" y="626" width="1" height="24"/>
<rect x="491" y="626" width="1" height="18"/>
<rect x="499" y="626" width="1" height="16"/>
<rect x="507" y="626" width="1" height="19"/>
<rect x="515" y="626" width="1" height="24"/>
<rect x="523" y="626" width="1" height="30"/>
<rect x="531" y="626" width="1" height="34"/>
<rect x="539" y="626" width="1" height="38"/>
<rect x="547" y="626" width="1" height="40"/>
<rect x="555" y="626" width="1" height="34"/>
<rect x="563" y="626" width="1" height="29"/>
<rect x="571" y="626" width="1" height="28"/>
<rect x="579" y="626" width="1" height="30"/>
<rect x="587" y="626" width="1" height="40"/>
<rect x="595" y="626" width="1" height="54"/>
<rect x="603" y="626" width="1" height="66"/>
<rect x="611" y="626" width="1" height="88"/>
<rect x="619" y="626" width="1" height="104"/>
<rect x="627" y="626" width="1" height="112"/>
<rect x="635" y="626" width="1" height="106"/>
<rect x="643" y="626" width="1" height="98"/>
<rect x="651" y="626" width="1" height="98"/>
<rect x="659" y="626" width="1" height="94"/>
<rect x="667" y="626" width="1" height="88"/>
<rect x="675" y="626" width="1" height="80"/>
<rect x="683" y="626" width="1" height="78"/>
<rect x="691" y="626" width="1" height="72"/>
<rect x="699" y="626" width="1" height="60"/>
<rect x="707" y="626" width="1" height="52"/>
<rect x="715" y="626" width="1" height="46"/>
<rect x="723" y="626" width="1" height="44"/>
<rect x="731" y="626" width="1" height="42"/>
<rect x="739" y="626" width="1" height="40"/>
<rect x="747" y="626" width="1" height="34"/>
<rect x="755" y="626" width="1" height="30"/>
<rect x="763" y="626" width="1" height="28"/>
<rect x="771" y="626" width="1" height="22"/>
<rect x="779" y="626" width="1" height="16"/>
<rect x="787" y="626" width="1" height="12"/>
<rect x="795" y="626" width="1" height="8"/>
<rect x="803" y="626" width="1" height="8"/>
<rect x="811" y="626" width="1" height="8"/>
<rect x="819" y="626" width="1" height="8"/>
<rect x="827" y="626" width="1" height="10"/>
<rect x="835" y="626" width="1" height="14"/>
<rect x="843" y="626" width="1" height="16"/>
<rect x="851" y="626" width="1" height="22"/>
<rect x="859" y="626" width="1" height="24"/>
<rect x="867" y="626" width="1" height="28"/>
<rect x="875" y="626" width="1" height="34"/>
<rect x="883" y="626" width="1" height="42"/>
<rect x="891" y="626" width="1" height="54"/>
<rect x="899" y="626" width="1" height="62"/>
<rect x="907" y="626" width="1" height="60"/>
<rect x="915" y="626" width="1" height="62"/>
<rect x="923" y="626" width="1" height="56"/>
<rect x="931" y="626" width="1" height="50"/>
<rect x="939" y="626" width="1" height="44"/>
<rect x="947" y="626" width="1" height="38"/>
<rect x="955" y="626" width="1" height="38"/>
<rect x="963" y="626" width="1" height="36"/>
<rect x="971" y="626" width="1" height="34"/>
<rect x="979" y="626" width="1" height="34"/>
<rect x="987" y="626" width="1" height="32"/>
<rect x="995" y="626" width="1" height="30"/>
<rect x="1003" y="626" width="1" height="32"/>
<rect x="1011" y="626" width="1" height="26"/>
<rect x="1019" y="626" width="1" height="16"/>
<rect x="1027" y="626" width="1" height="10"/>
<rect x="1035" y="626" width="1" height="4"/>
<rect x="1043" y="626" width="1" height="1"/>
<rect x="1051" y="623" width="1" height="4"/>
<rect x="1059" y="621" width="1" height="6"/>
<rect x="1067" y="619" width="1" height="8"/>
<rect x="1075" y="615" width="1" height="12"/>
<rect x="1083" y="611" width="1" height="16"/>
<rect x="1091" y="607" width="1" height="20"/>
<rect x="1099" y="607" width="1" height="20"/>
<rect x="1107" y="604" width="1" height="23"/>
<rect x="1115" y="609" width="1" height="18"/>
<rect x="1123" y="615" width="1" height="12"/>
<rect x="1131" y="613" width="1" height="14"/>
<rect x="1139" y="611" width="1" height="16"/>
<rect x="1147" y="617" width="1" height="10"/>
<rect x="1155" y="619" width="1" height="8"/>
<rect x="1163" y="623" width="1" height="4"/>
<rect x="1179" y="626" width="1" height="8"/>
<rect x="1187" y="626" width="1" height="18"/>
<rect x="1195" y="626" width="1" height="32"/>
<rect x="1203" y="626" width="1" height="40"/>
<rect x="1211" y="626" width="1" height="46"/>
<rect x="1219" y="626" width="1" height="46"/>
<rect x="1227" y="626" width="1" height="60"/>
<rect x="1235" y="626" width="1" height="68"/>
<rect x="1243" y="626" width="1" height="76"/>
<rect x="1251" y="626" width="1" height="78"/>
<rect x="1259" y="626" width="1" height="76"/>
<rect x="1267" y="626" width="1" height="70"/>
<rect x="1275" y="626" width="1" height="66"/>
<rect x="1283" y="626" width="1" height="68"/>
<rect x="1291" y="626" width="1" height="64"/>
<rect x="1299" y="626" width="1" height="62"/>
<rect x="1307" y="626" width="1" height="58"/>
<rect x="1315" y="626" width="1" height="54"/>
<rect x="1323" y="626" width="1" height="50"/>
<rect x="1331" y="626" width="1" height="46"/>
<rect x="1339" y="626" width="1" height="42"/>
<rect x="1347" y="626" width="1" height="38"/>
<rect x="1355" y="626" width="1" height="42"/>
<rect x="1363" y="626" width="1" height="42"/>
<rect x="1371" y="626" width="1" height="44"/>
<rect x="1379" y="626" width="1" height="44"/>
<rect x="1387" y="626" width="1" height="44"/>
<rect x="1395" y="626" width="1" height="44"/>
<rect x="1403" y="626" width="1" height="36"/>
<rect x="1411" y="626" width="1" height="28"/>
<rect x="1419" y="626" width="1" height="22"/>
<rect x="1427" y="626" width="1" height="14"/>
</g>
<path d="M0.0,594.5 C1.7,594.1 6.7,592.8 10.0,592.0 C13.3,591.2 16.7,590.4 20.0,590.0 C23.3,589.6 26.7,589.5 30.0,589.5 C33.3,589.5 36.7,589.8 40.0,590.0 C43.3,590.2 46.7,590.2 50.0,590.5 C53.3,590.8 56.7,591.3 60.0,592.0 C63.3,592.7 66.7,593.4 70.0,594.5 C73.3,595.6 76.7,597.2 80.0,598.8 C83.3,600.3 86.7,602.1 90.0,603.8 C93.3,605.4 96.7,607.2 100.0,608.8 C103.3,610.3 106.7,611.5 110.0,613.0 C113.3,614.5 116.7,616.4 120.0,617.5 C123.3,618.6 126.7,618.8 130.0,619.5 C133.3,620.2 136.7,621.1 140.0,622.0 C143.3,622.9 146.7,624.2 150.0,625.0 C153.3,625.8 156.7,625.8 160.0,626.5 C163.3,627.2 166.7,628.2 170.0,629.0 C173.3,629.8 176.7,630.5 180.0,631.2 C183.3,632.0 186.7,633.1 190.0,633.8 C193.3,634.4 196.7,634.6 200.0,635.0 C203.3,635.4 206.7,635.8 210.0,636.2 C213.3,636.7 216.7,637.1 220.0,637.5 C223.3,637.9 226.7,638.5 230.0,638.8 C233.3,639.0 236.7,639.2 240.0,639.2 C243.3,639.3 246.7,639.5 250.0,639.2 C253.3,639.0 256.7,638.5 260.0,638.0 C263.3,637.5 266.7,637.3 270.0,636.5 C273.3,635.7 276.7,634.2 280.0,633.0 C283.3,631.8 286.7,630.6 290.0,629.5 C293.3,628.4 296.7,627.6 300.0,626.2 C303.3,624.9 306.7,622.6 310.0,621.2 C313.3,619.9 316.7,618.8 320.0,618.0 C323.3,617.2 326.7,616.4 330.0,616.2 C333.3,616.1 336.7,616.5 340.0,617.0 C343.3,617.5 346.7,618.2 350.0,619.5 C353.3,620.8 356.7,623.0 360.0,625.0 C363.3,627.0 366.7,629.2 370.0,631.2 C373.3,633.3 376.7,635.2 380.0,637.5 C383.3,639.8 386.7,642.5 390.0,645.0 C393.3,647.5 396.7,649.8 400.0,652.5 C403.3,655.2 406.7,658.7 410.0,661.2 C413.3,663.8 417.5,666.5 420.0,668.0 C422.5,669.5 422.5,668.8 425.0,670.0 C427.5,671.2 431.7,673.7 435.0,675.0 C438.3,676.3 441.7,677.2 445.0,678.0 C448.3,678.8 451.7,679.4 455.0,679.5 C458.3,679.6 461.7,678.9 465.0,678.5 C468.3,678.1 471.7,678.2 475.0,677.0 C478.3,675.8 481.7,673.3 485.0,671.2 C488.3,669.2 491.7,666.6 495.0,664.5 C498.3,662.4 501.7,660.2 505.0,658.8 C508.3,657.2 511.7,656.4 515.0,655.5 C518.3,654.6 521.7,653.8 525.0,653.2 C528.3,652.7 531.7,652.1 535.0,652.2 C538.3,652.4 541.7,653.5 545.0,654.0 C548.3,654.5 551.7,655.1 555.0,655.5 C558.3,655.9 561.7,656.2 565.0,656.5 C568.3,656.8 571.7,657.0 575.0,657.5 C578.3,658.0 581.7,658.6 585.0,659.5 C588.3,660.4 591.7,661.6 595.0,663.0 C598.3,664.4 601.7,665.8 605.0,668.0 C608.3,670.2 611.7,673.3 615.0,676.2 C618.3,679.2 621.7,682.0 625.0,685.5 C628.3,689.0 631.7,693.8 635.0,697.5 C638.3,701.2 641.7,704.4 645.0,707.5 C648.3,710.6 651.7,714.0 655.0,716.2 C658.3,718.5 661.7,720.0 665.0,721.2 C668.3,722.5 671.7,723.5 675.0,723.5 C678.3,723.5 681.7,722.7 685.0,721.5 C688.3,720.3 691.7,718.2 695.0,716.2 C698.3,714.2 701.7,712.0 705.0,709.5 C708.3,707.0 711.7,703.9 715.0,701.2 C718.3,698.6 721.7,696.0 725.0,693.8 C728.3,691.5 731.7,689.8 735.0,687.5 C738.3,685.2 741.7,682.4 745.0,680.0 C748.3,677.6 751.7,675.1 755.0,673.0 C758.3,670.9 761.7,669.2 765.0,667.5 C768.3,665.8 771.7,664.2 775.0,662.5 C778.3,660.8 781.7,659.2 785.0,657.5 C788.3,655.8 791.7,654.1 795.0,652.5 C798.3,650.9 801.7,649.5 805.0,648.0 C808.3,646.5 811.7,644.9 815.0,643.8 C818.3,642.6 821.7,642.1 825.0,641.2 C828.3,640.4 831.7,639.0 835.0,638.5 C838.3,638.0 842.5,638.3 845.0,638.2 C847.5,638.2 847.5,637.5 850.0,638.0 C852.5,638.5 856.7,640.4 860.0,641.2 C863.3,642.1 866.7,642.0 870.0,643.0 C873.3,644.0 876.7,645.2 880.0,647.0 C883.3,648.8 886.7,651.4 890.0,653.8 C893.3,656.1 896.7,659.2 900.0,661.2 C903.3,663.3 906.7,664.4 910.0,666.2 C913.3,668.1 916.7,670.6 920.0,672.5 C923.3,674.4 926.7,676.5 930.0,677.5 C933.3,678.5 936.7,678.5 940.0,678.8 C943.3,679.0 946.7,679.5 950.0,679.2 C953.3,679.0 956.7,678.4 960.0,677.5 C963.3,676.6 966.7,675.0 970.0,673.8 C973.3,672.5 976.7,671.1 980.0,670.0 C983.3,668.9 986.7,668.2 990.0,667.0 C993.3,665.8 996.7,664.1 1000.0,663.0 C1003.3,661.9 1006.7,661.3 1010.0,660.5 C1013.3,659.7 1016.7,659.2 1020.0,658.0 C1023.3,656.8 1026.7,654.4 1030.0,653.0 C1033.3,651.6 1036.7,651.0 1040.0,649.5 C1043.3,648.0 1046.7,645.7 1050.0,643.8 C1053.3,641.8 1056.7,639.8 1060.0,638.0 C1063.3,636.2 1066.7,634.8 1070.0,633.0 C1073.3,631.2 1076.7,629.0 1080.0,627.0 C1083.3,625.0 1086.7,623.1 1090.0,621.2 C1093.3,619.4 1096.7,617.2 1100.0,615.8 C1103.3,614.3 1106.7,613.3 1110.0,612.5 C1113.3,611.7 1116.7,611.2 1120.0,610.8 C1123.3,610.2 1126.7,609.8 1130.0,609.5 C1133.3,609.2 1136.7,609.2 1140.0,609.2 C1143.3,609.2 1146.7,609.3 1150.0,609.5 C1153.3,609.7 1156.7,609.7 1160.0,610.5 C1163.3,611.3 1166.7,613.1 1170.0,614.5 C1173.3,615.9 1176.7,617.2 1180.0,618.8 C1183.3,620.3 1186.7,621.9 1190.0,623.8 C1193.3,625.6 1196.7,627.5 1200.0,630.0 C1203.3,632.5 1206.7,636.0 1210.0,638.8 C1213.3,641.5 1216.7,643.3 1220.0,646.2 C1223.3,649.2 1226.7,652.9 1230.0,656.2 C1233.3,659.6 1236.7,662.9 1240.0,666.2 C1243.3,669.6 1246.7,673.1 1250.0,676.2 C1253.3,679.4 1256.7,682.7 1260.0,685.0 C1263.3,687.3 1267.5,688.8 1270.0,690.0 C1272.5,691.2 1272.5,691.4 1275.0,692.0 C1277.5,692.6 1282.1,693.0 1285.0,693.8 C1287.9,694.5 1290.0,696.0 1292.5,696.2 C1295.0,696.5 1297.1,695.6 1300.0,695.0 C1302.9,694.4 1306.7,693.5 1310.0,692.5 C1313.3,691.5 1316.7,689.9 1320.0,688.8 C1323.3,687.6 1326.7,686.6 1330.0,685.5 C1333.3,684.4 1336.7,682.9 1340.0,682.0 C1343.3,681.1 1346.7,680.8 1350.0,680.0 C1353.3,679.2 1356.7,678.3 1360.0,677.5 C1363.3,676.7 1366.7,675.8 1370.0,675.0 C1373.3,674.2 1376.7,673.1 1380.0,672.5 C1383.3,671.9 1386.7,671.7 1390.0,671.2 C1393.3,670.8 1396.7,670.4 1400.0,670.0 C1403.3,669.6 1406.7,669.4 1410.0,668.8 C1413.3,668.1 1417.6,667.0 1420.0,666.2 C1422.4,665.5 1423.8,664.8 1424.5,664.5" fill="none" stroke="#ff0000" stroke-width="1" stroke-dasharray="3,3" shape-rendering="crispEdges"/>
<path d="M1275.0,707.0L1424.7,647.7" stroke="#ff0000" stroke-width="3.6" stroke-linecap="butt" fill="none"/>
<path d="M1434.0,644.0L1424.9,653.5L1425.6,647.3L1420.8,643.3Z" fill="#ff0000"/>
</g>
<g clip-path="url(#cr)">
<g shape-rendering="crispEdges" stroke="#c0c0c0" stroke-dasharray="3,3" stroke-width="1">
<path d="M1654,785.5H0"/>
<path d="M1654,836.5H0"/>
<path d="M1654,897.5H0"/>
</g>
<path d="M0.0,818.0 L3.0,815.5 L11.0,809.5 L19.0,818.0 L27.0,821.2 L35.0,825.0 L43.0,834.2 L51.0,832.0 L59.0,837.5 L67.0,845.5 L75.0,839.5 L83.0,845.5 L91.0,841.5 L99.0,841.5 L107.0,840.0 L115.0,836.2 L123.0,845.5 L131.0,835.5 L139.0,834.2 L147.0,848.0 L155.0,850.2 L163.0,850.2 L171.0,856.5 L179.0,852.5 L187.0,851.2 L195.0,836.2 L203.0,831.5 L211.0,851.2 L219.0,847.0 L227.0,848.2 L235.0,857.5 L243.0,833.2 L251.0,830.2 L259.0,827.2 L267.0,826.0 L275.0,816.5 L283.0,814.2 L291.0,814.2 L299.0,826.8 L307.0,831.2 L315.0,831.5 L323.0,842.5 L331.0,859.2 L339.0,861.2 L347.0,862.2 L355.0,863.2 L363.0,870.2 L371.0,866.2 L379.0,869.5 L387.0,865.2 L395.0,880.2 L403.0,885.5 L411.0,875.2 L419.0,875.2 L427.0,862.0 L435.0,859.5 L443.0,838.2 L451.0,842.0 L459.0,847.2 L467.0,845.2 L475.0,831.2 L483.0,836.2 L491.0,833.0 L499.0,836.5 L507.0,854.2 L515.0,855.2 L523.0,863.5 L531.0,860.2 L539.0,863.5 L547.0,857.2 L555.0,838.2 L563.0,838.2 L571.0,847.2 L579.0,852.2 L587.0,869.5 L595.0,876.0 L603.0,878.0 L611.0,889.2 L619.0,889.2 L627.0,877.5 L635.0,855.2 L643.0,851.2 L651.0,859.2 L659.0,854.2 L667.0,848.2 L675.0,848.2 L683.0,852.2 L691.0,848.0 L699.0,836.5 L707.0,840.2 L715.0,842.5 L723.0,846.5 L731.0,845.2 L739.0,846.5 L747.0,838.2 L755.0,842.5 L763.0,841.2 L771.0,834.0 L779.0,832.2 L787.0,832.2 L795.0,832.2 L803.0,838.2 L811.0,844.2 L819.0,840.2 L827.0,846.2 L835.0,849.2 L843.0,852.5 L851.0,862.2 L859.0,853.2 L867.0,856.5 L875.0,867.2 L883.0,870.5 L891.0,880.2 L899.0,876.2 L907.0,854.2 L915.0,859.2 L923.0,845.2 L931.0,841.2 L939.0,841.2 L947.0,839.2 L955.0,849.5 L963.0,846.2 L971.0,845.2 L979.0,851.2 L987.0,847.5 L995.0,844.2 L1003.0,854.2 L1011.0,832.2 L1019.0,827.2 L1027.0,827.2 L1035.0,825.2 L1043.0,824.2 L1051.0,830.2 L1059.0,831.5 L1067.0,827.0 L1075.0,823.0 L1083.0,818.2 L1091.0,818.2 L1099.0,824.5 L1107.0,821.2 L1115.0,837.0 L1123.0,845.2 L1131.0,828.5 L1139.0,827.0 L1147.0,844.2 L1155.0,839.5 L1163.0,840.5 L1171.0,850.5 L1179.0,855.2 L1187.0,861.0 L1195.0,871.2 L1203.0,866.2 L1211.0,862.2 L1219.0,857.5 L1227.0,875.2 L1235.0,870.2 L1243.0,871.5 L1251.0,865.0 L1259.0,857.5 L1267.0,852.5 L1275.0,853.5 L1283.0,860.5 L1291.0,857.5 L1299.0,859.2 L1307.0,846.2 L1315.0,848.2 L1323.0,851.5 L1331.0,844.5 L1339.0,847.2 L1347.0,843.2 L1355.0,858.2 L1363.0,858.2 L1371.0,853.5 L1379.0,854.2 L1387.0,856.8 L1395.0,855.5 L1403.0,833.5 L1411.0,830.2 L1419.0,832.2 L1427.0,824.5" fill="none" stroke="#1e90ff" stroke-width="0.8" shape-rendering="crispEdges"/>
<path d="M1384.0,862.5L1431.6,825.6" stroke="#ff0000" stroke-width="3.6" stroke-linecap="butt" fill="none"/>
<path d="M1439.5,819.5L1433.4,831.2L1432.4,825.0L1426.6,822.5Z" fill="#ff0000"/>
</g>
<g font-size="10" fill="#000">
<rect x="1655" y="44" width="2" height="1" fill="#000" shape-rendering="crispEdges"/>
<text x="1660" y="48.1" textLength="33" lengthAdjust="spacingAndGlyphs">29447.0</text>
<rect x="1655" y="77" width="2" height="1" fill="#000" shape-rendering="crispEdges"/>
<text x="1660" y="81.1" textLength="33" lengthAdjust="spacingAndGlyphs">29084.0</text>
<rect x="1655" y="110" width="2" height="1" fill="#000" shape-rendering="crispEdges"/>
<text x="1660" y="114.1" textLength="33" lengthAdjust="spacingAndGlyphs">28710.0</text>
<rect x="1655" y="143" width="2" height="1" fill="#000" shape-rendering="crispEdges"/>
<text x="1660" y="147.1" textLength="33" lengthAdjust="spacingAndGlyphs">28336.0</text>
<rect x="1655" y="176" width="2" height="1" fill="#000" shape-rendering="crispEdges"/>
<text x="1660" y="180.1" textLength="33" lengthAdjust="spacingAndGlyphs">27973.0</text>
<rect x="1655" y="209" width="2" height="1" fill="#000" shape-rendering="crispEdges"/>
<text x="1660" y="213.1" textLength="33" lengthAdjust="spacingAndGlyphs">27599.0</text>
<rect x="1655" y="242" width="2" height="1" fill="#000" shape-rendering="crispEdges"/>
<text x="1660" y="246.1" textLength="33" lengthAdjust="spacingAndGlyphs">27225.0</text>
<rect x="1655" y="275" width="2" height="1" fill="#000" shape-rendering="crispEdges"/>
<text x="1660" y="279.1" textLength="33" lengthAdjust="spacingAndGlyphs">26862.0</text>
<rect x="1655" y="308" width="2" height="1" fill="#000" shape-rendering="crispEdges"/>
<text x="1660" y="312.1" textLength="33" lengthAdjust="spacingAndGlyphs">26488.0</text>
<rect x="1655" y="341" width="2" height="1" fill="#000" shape-rendering="crispEdges"/>
<text x="1660" y="345.1" textLength="33" lengthAdjust="spacingAndGlyphs">26114.0</text>
<rect x="1655" y="374" width="2" height="1" fill="#000" shape-rendering="crispEdges"/>
<text x="1660" y="378.1" textLength="33" lengthAdjust="spacingAndGlyphs">25751.0</text>
<rect x="1655" y="407" width="2" height="1" fill="#000" shape-rendering="crispEdges"/>
<text x="1660" y="411.1" textLength="33" lengthAdjust="spacingAndGlyphs">25377.0</text>
<rect x="1655" y="440" width="2" height="1" fill="#000" shape-rendering="crispEdges"/>
<text x="1660" y="444.1" textLength="33" lengthAdjust="spacingAndGlyphs">25003.0</text>
<rect x="1655" y="473" width="2" height="1" fill="#000" shape-rendering="crispEdges"/>
<text x="1660" y="477.1" textLength="33" lengthAdjust="spacingAndGlyphs">24640.0</text>
<rect x="1655" y="506" width="2" height="1" fill="#000" shape-rendering="crispEdges"/>
<text x="1660" y="510.1" textLength="33" lengthAdjust="spacingAndGlyphs">24266.0</text>
<rect x="1655" y="539" width="2" height="1" fill="#000" shape-rendering="crispEdges"/>
<text x="1660" y="543.1" textLength="33" lengthAdjust="spacingAndGlyphs">23892.0</text>
<rect x="1655" y="572" width="2" height="1" fill="#000" shape-rendering="crispEdges"/>
<text x="1660" y="576.1" textLength="33" lengthAdjust="spacingAndGlyphs">23529.0</text>
<rect x="1656" y="452" width="41" height="11" fill="#000000" shape-rendering="crispEdges"/>
<text x="1660" y="460.8" font-size="9.3" fill="#fff" textLength="33" lengthAdjust="spacingAndGlyphs">24818.0</text>
<rect x="1656" y="410" width="41" height="11" fill="#ff0000" shape-rendering="crispEdges"/>
<text x="1660" y="418.8" font-size="9.3" fill="#fff" textLength="33" lengthAdjust="spacingAndGlyphs">25277.8</text>
<rect x="1649.5" y="414.5" width="4" height="4" fill="#fff" stroke="#ff0000" stroke-width="1" shape-rendering="crispEdges"/>
<rect x="1656" y="429" width="41" height="11" fill="#ff0000" shape-rendering="crispEdges"/>
<text x="1660" y="437.8" font-size="9.3" fill="#fff" textLength="33" lengthAdjust="spacingAndGlyphs">25064.9</text>
<rect x="1656" y="457" width="41" height="11" fill="#32cd32" shape-rendering="crispEdges"/>
<text x="1660" y="465.8" font-size="9.3" fill="#fff" textLength="33" lengthAdjust="spacingAndGlyphs">24751.1</text>
<rect x="1649.5" y="461.5" width="4" height="4" fill="#fff" stroke="#32cd32" stroke-width="1" shape-rendering="crispEdges"/>
<rect x="1656" y="480" width="41" height="11" fill="#0000ff" shape-rendering="crispEdges"/>
<text x="1660" y="488.8" font-size="9.3" fill="#fff" textLength="33" lengthAdjust="spacingAndGlyphs">24493.4</text>
<rect x="1649.5" y="484.5" width="4" height="4" fill="#fff" stroke="#0000ff" stroke-width="1" shape-rendering="crispEdges"/>
<rect x="1656" y="502" width="41" height="11" fill="#0000ff" shape-rendering="crispEdges"/>
<text x="1660" y="510.8" font-size="9.3" fill="#fff" textLength="33" lengthAdjust="spacingAndGlyphs">24246.8</text>
<rect x="1649.5" y="506.5" width="4" height="4" fill="#fff" stroke="#0000ff" stroke-width="1" shape-rendering="crispEdges"/>
<text x="1657.8" y="588.2" textLength="28.0" lengthAdjust="spacingAndGlyphs">275.75</text>
<text x="1657.8" y="630.2" textLength="17.8" lengthAdjust="spacingAndGlyphs">0.00</text>
<text x="1657.8" y="744.2" textLength="31.0" lengthAdjust="spacingAndGlyphs">-698.77</text>
<text x="1657.8" y="760.2" textLength="15.3" lengthAdjust="spacingAndGlyphs">100</text>
<text x="1657.8" y="789.2" textLength="10.2" lengthAdjust="spacingAndGlyphs">80</text>
<text x="1657.8" y="840.1" textLength="10.2" lengthAdjust="spacingAndGlyphs">50</text>
<text x="1657.8" y="901.1" textLength="10.2" lengthAdjust="spacingAndGlyphs">15</text>
<text x="1657.8" y="920.2" textLength="5.1" lengthAdjust="spacingAndGlyphs">0</text>
<text x="10" y="34.2" textLength="40.6" lengthAdjust="spacingAndGlyphs">HK50-,H4</text>
<text x="57" y="34.2" textLength="141" lengthAdjust="spacingAndGlyphs">24586.0 24824.0 24566.0 24818.0</text>
<path d="M-2.5,33.6L1.5,28.8L5.5,33.6Z" fill="#000"/>
<text x="-0.4" y="589.6" textLength="128" lengthAdjust="spacingAndGlyphs">MACD(12,26,9) -79.53 -211.54</text>
<text x="-0.5" y="761.7" textLength="67" lengthAdjust="spacingAndGlyphs">RSI(14) 57.1443</text>
<text x="0.3" y="936.1" textLength="47.8" lengthAdjust="spacingAndGlyphs">1 May 2021</text>
<rect x="59" y="924" width="1" height="3" fill="#000" shape-rendering="crispEdges"/>
<text x="58.2" y="936.1" textLength="47.8" lengthAdjust="spacingAndGlyphs">4 Jun 05:00</text>
<rect x="123" y="924" width="1" height="3" fill="#000" shape-rendering="crispEdges"/>
<text x="122.2" y="936.1" textLength="52.9" lengthAdjust="spacingAndGlyphs">10 Jun 05:00</text>
<rect x="187" y="924" width="1" height="3" fill="#000" shape-rendering="crispEdges"/>
<text x="186.2" y="936.1" textLength="52.9" lengthAdjust="spacingAndGlyphs">17 Jun 05:00</text>
<rect x="251" y="924" width="1" height="3" fill="#000" shape-rendering="crispEdges"/>
<text x="250.2" y="936.1" textLength="52.9" lengthAdjust="spacingAndGlyphs">23 Jun 05:00</text>
<rect x="315" y="924" width="1" height="3" fill="#000" shape-rendering="crispEdges"/>
<text x="314.2" y="936.1" textLength="52.9" lengthAdjust="spacingAndGlyphs">30 Jun 01:15</text>
<rect x="379" y="924" width="1" height="3" fill="#000" shape-rendering="crispEdges"/>
<text x="378.2" y="936.1" textLength="44.8" lengthAdjust="spacingAndGlyphs">7 Jul 01:15</text>
<rect x="443" y="924" width="1" height="3" fill="#000" shape-rendering="crispEdges"/>
<text x="442.2" y="936.1" textLength="49.9" lengthAdjust="spacingAndGlyphs">13 Jul 01:15</text>
<rect x="507" y="924" width="1" height="3" fill="#000" shape-rendering="crispEdges"/>
<text x="506.2" y="936.1" textLength="49.9" lengthAdjust="spacingAndGlyphs">19 Jul 01:15</text>
<rect x="571" y="924" width="1" height="3" fill="#000" shape-rendering="crispEdges"/>
<text x="570.2" y="936.1" textLength="49.9" lengthAdjust="spacingAndGlyphs">23 Jul 01:15</text>
<rect x="635" y="924" width="1" height="3" fill="#000" shape-rendering="crispEdges"/>
<text x="634.2" y="936.1" textLength="49.9" lengthAdjust="spacingAndGlyphs">29 Jul 01:15</text>
<rect x="699" y="924" width="1" height="3" fill="#000" shape-rendering="crispEdges"/>
<text x="698.2" y="936.1" textLength="48.8" lengthAdjust="spacingAndGlyphs">4 Aug 01:15</text>
<rect x="763" y="924" width="1" height="3" fill="#000" shape-rendering="crispEdges"/>
<text x="762.2" y="936.1" textLength="53.9" lengthAdjust="spacingAndGlyphs">10 Aug 01:15</text>
<rect x="827" y="924" width="1" height="3" fill="#000" shape-rendering="crispEdges"/>
<text x="826.2" y="936.1" textLength="53.9" lengthAdjust="spacingAndGlyphs">16 Aug 01:15</text>
<rect x="891" y="924" width="1" height="3" fill="#000" shape-rendering="crispEdges"/>
<text x="890.2" y="936.1" textLength="53.9" lengthAdjust="spacingAndGlyphs">20 Aug 01:15</text>
<rect x="955" y="924" width="1" height="3" fill="#000" shape-rendering="crispEdges"/>
<text x="954.2" y="936.1" textLength="53.9" lengthAdjust="spacingAndGlyphs">26 Aug 01:15</text>
<rect x="1019" y="924" width="1" height="3" fill="#000" shape-rendering="crispEdges"/>
<text x="1018.2" y="936.1" textLength="49.4" lengthAdjust="spacingAndGlyphs">1 Sep 01:15</text>
<rect x="1083" y="924" width="1" height="3" fill="#000" shape-rendering="crispEdges"/>
<text x="1082.2" y="936.1" textLength="49.4" lengthAdjust="spacingAndGlyphs">7 Sep 01:15</text>
<rect x="1147" y="924" width="1" height="3" fill="#000" shape-rendering="crispEdges"/>
<text x="1146.2" y="936.1" textLength="54.4" lengthAdjust="spacingAndGlyphs">13 Sep 01:15</text>
<rect x="1211" y="924" width="1" height="3" fill="#000" shape-rendering="crispEdges"/>
<text x="1210.2" y="936.1" textLength="54.4" lengthAdjust="spacingAndGlyphs">17 Sep 01:15</text>
<rect x="1275" y="924" width="1" height="3" fill="#000" shape-rendering="crispEdges"/>
<text x="1274.2" y="936.1" textLength="54.4" lengthAdjust="spacingAndGlyphs">24 Sep 01:15</text>
<rect x="1339" y="924" width="1" height="3" fill="#000" shape-rendering="crispEdges"/>
<text x="1338.2" y="936.1" textLength="54.4" lengthAdjust="spacingAndGlyphs">30 Sep 01:15</text>
<rect x="1403" y="924" width="1" height="3" fill="#000" shape-rendering="crispEdges"/>
<text x="1402.2" y="936.1" textLength="47.3" lengthAdjust="spacingAndGlyphs">7 Oct 01:15</text>
</g>
</svg>
<svg width="1701" height="22" viewBox="0 0 1701 22" style="position:absolute;left:0;top:0" font-family='"Liberation Sans", sans-serif' text-rendering="geometricPrecision">
<rect x="0" y="0" width="1701" height="17" fill="#f0f0f0"/>
<rect x="0" y="17" width="1701" height="1" fill="#d4d4d4" shape-rendering="crispEdges"/>
<rect x="0" y="18" width="1701" height="1" fill="#a0a0a0" shape-rendering="crispEdges"/>
<rect x="0" y="19" width="1701" height="1" fill="#696969" shape-rendering="crispEdges"/>
<rect x="0" y="20" width="1701" height="2" fill="#fff" shape-rendering="crispEdges"/>
<circle cx="-1" cy="5" r="5" fill="#dcecfa" stroke="#6aa0d8" stroke-width="1.2"/>
<path d="M3.5,10.5L7.5,15" stroke="#c8a030" stroke-width="2.4" stroke-linecap="round"/>
<path d="M13.5,15.8l1.7,1.7l-1.7,1.7l-1.7,-1.7z" fill="#fff" stroke="#000" stroke-width="0.8"/>
<rect x="15" y="0" width="1" height="16" fill="#a0a0a0" shape-rendering="crispEdges"/><rect x="16" y="0" width="1" height="16" fill="#fdfdfd" shape-rendering="crispEdges"/>
<path d="M25.5,-1h8l3,3v9.5h-11z" fill="#fff" stroke="#808080" stroke-width="1"/><path d="M27.5,3h6M27.5,5.5h6" stroke="#a0a0a0" stroke-width="1"/>
<path d="M33.6,4.5h3.2v3.9h3.9v3.2h-3.9v3.9h-3.2v-3.9h-3.9v-3.2h3.9z" fill="#28d028" stroke="#0c8a0c" stroke-width="0.8"/>
<path transform="translate(44,-2) scale(1.0)" d="M2.6,0V1.2 M0,1.6H5.6 M1.4,2.6L2,4.2 M4.2,2.6L3.6,4.2 M0,4.6H5.8 M0.4,7H5.2 M2.8,4.6V11.4 M2.6,7.4L0.2,10.2 M3.2,7.8L5.2,9.6 M10.8,0.4L7,1.8 M7,1.8V6.5L6,11.4 M7,5H11.6 M9.6,5V11.4" fill="none" stroke="#000" stroke-width="1.3" stroke-linecap="square"/><path transform="translate(56,-2) scale(1.0)" d="M1,0.8L2.2,2.2 M0,4.6H2.4V10.2L3.8,8.6 M4.6,2H11.6 M8.6,2V10.8L7,10.2" fill="none" stroke="#000" stroke-width="1.3" stroke-linecap="square"/><path transform="translate(68,-2) scale(1.0)" d="M3,0L4,1.6 M8.4,0L7.4,1.6 M2,2.6H9.6V7.2H2Z M2,4.9H9.6 M5.8,2.6V11.6 M0,9.2H11.6" fill="none" stroke="#000" stroke-width="1.3" stroke-linecap="square"/>
<path d="M99,-1L108,6L101,14L92,7.5Z" fill="#e0a820" stroke="#a87410" stroke-width="1"/><path d="M99,0.5L106.5,6L100.5,12.5" fill="none" stroke="#f8dc80" stroke-width="1.2"/>
<rect x="122.5" y="-1" width="11" height="9" fill="#3c98e8" stroke="#1c68c0" stroke-width="1"/><rect x="125" y="1.5" width="6" height="3" fill="#e8f4ff"/>
<path d="M122,14.5a3,3 0 0 1 0.5,-6a4,4 0 0 1 7,-0.5a3.4,3.4 0 0 1 5.5,3.5a2,2 0 0 1 -1,3z" fill="#eef4fc" stroke="#88a4cc" stroke-width="1"/>
<path d="M151,-1a8,8 0 0 0 0,13M153.5,1a5,5 0 0 0 0,9" fill="none" stroke="#5080d0" stroke-width="1.1"/>
<path d="M156.5,13.5a8.3,8.3 0 0 0 3,-15" fill="#cfe8cf" stroke="#6cb86c" stroke-width="1.2"/><path d="M158,9.5a4.6,4.6 0 0 0 0.8,-8.5" fill="none" stroke="#88c088" stroke-width="1"/>
<path d="M156.5,6V13.5" stroke="#28a028" stroke-width="1.4"/><circle cx="156.3" cy="5.2" r="1.5" fill="#3060c8"/>
<path d="M176,5.5L191,5.5L189,9L184,13.8L181.5,13Z" fill="#f8d840" stroke="#c89820" stroke-width="0.9"/>
<ellipse cx="183.5" cy="3" rx="8" ry="2.6" fill="#48a8e0" stroke="#2078b8" stroke-width="0.8"/><rect x="179.5" y="-2" width="8" height="4.5" fill="#58b4e8"/>
<circle cx="187.6" cy="9.6" r="4.1" fill="#e02818"/><rect x="186" y="8" width="3.2" height="3.2" fill="#fff"/>
<path transform="translate(196.5,-2) scale(0.98)" d="M5.8,0L4.6,1.6 M2.6,2H9.6V11.2H2.6Z M2.6,5H9.6 M2.6,8H9.6" fill="none" stroke="#000" stroke-width="1.3" stroke-linecap="square"/><path transform="translate(208.3,-2) scale(0.98)" d="M1,2H5.2 M0,5H6 M3,5L1,9.6L5.6,9 M4.6,7.4L5.8,10.2 M6.6,3.6H11L10.6,10.8L9.4,10.2 M8.6,0.4V5L6.6,11.2" fill="none" stroke="#000" stroke-width="1.3" stroke-linecap="square"/><path transform="translate(220.1,-2) scale(0.98)" d="M5.8,0V1.6 M0.4,2.6H11.2 M3.6,3.6L1.4,6.2 M7.8,3.6L10.2,6.2 M8,5.6L5,9.2L0.4,11.6 M3.6,5.6L6.2,9.2L11.6,11.6" fill="none" stroke="#000" stroke-width="1.3" stroke-linecap="square"/><path transform="translate(231.9,-2) scale(0.98)" d="M2.6,0.6H9.2V5H2.6Z M2.6,2.8H9.2 M3,5.6L0.4,8.6 M2.6,6.8H10.6L10,11.2L9,10.6 M5.6,6.8L2,11.2 M8.2,6.8L5,11.2" fill="none" stroke="#000" stroke-width="1.3" stroke-linecap="square"/>
<rect x="251" y="0" width="1" height="16" fill="#a0a0a0" shape-rendering="crispEdges"/><rect x="252" y="0" width="1" height="16" fill="#fdfdfd" shape-rendering="crispEdges"/>
<rect x="255" y="0" width="3" height="1" fill="#b0b0b0" shape-rendering="crispEdges"/><rect x="255" y="2" width="3" height="1" fill="#b0b0b0" shape-rendering="crispEdges"/><rect x="255" y="4" width="3" height="1" fill="#b0b0b0" shape-rendering="crispEdges"/><rect x="255" y="6" width="3" height="1" fill="#b0b0b0" shape-rendering="crispEdges"/><rect x="255" y="8" width="3" height="1" fill="#b0b0b0" shape-rendering="crispEdges"/><rect x="255" y="10" width="3" height="1" fill="#b0b0b0" shape-rendering="crispEdges"/><rect x="255" y="12" width="3" height="1" fill="#b0b0b0" shape-rendering="crispEdges"/><rect x="255" y="14" width="3" height="1" fill="#b0b0b0" shape-rendering="crispEdges"/>
<path d="M269.5,0V13.5M267,11.5H279" stroke="#505050" stroke-width="1" fill="none"/><path d="M280.5,11.5l-2.5,-1.8v3.6z" fill="#505050"/>
<path d="M275.5,1.5V9.5M275.5,2H278M273,9H275.5" stroke="#18a018" stroke-width="1.3" fill="none"/>
<rect x="289" y="0" width="1" height="16" fill="#a0a0a0" shape-rendering="crispEdges"/><rect x="290" y="0" width="1" height="16" fill="#fdfdfd" shape-rendering="crispEdges"/>
<rect x="291" y="0" width="23" height="16" fill="#f9f9f9"/>
<path d="M297.5,0V13.5M295,11.5H307" stroke="#505050" stroke-width="1" fill="none"/><path d="M308.5,11.5l-2.5,-1.8v3.6z" fill="#505050"/>
<rect x="301" y="0.5" width="4.5" height="7" fill="#30d030" stroke="#108810" stroke-width="0.9"/><path d="M303.3,7.5V9.8" stroke="#108810" stroke-width="1"/>
<path d="M325.5,0V13.5M323,11.5H335.5" stroke="#505050" stroke-width="1" fill="none"/><path d="M337.0,11.5l-2.5,-1.8v3.6z" fill="#505050"/>
<path d="M324.5,9C327,5.5 329,3 331,3.2C333,3.6 334.5,6 336.5,7.5" stroke="#30a030" stroke-width="1.1" fill="none"/>
<rect x="346" y="0" width="1" height="16" fill="#a0a0a0" shape-rendering="crispEdges"/><rect x="347" y="0" width="1" height="16" fill="#fdfdfd" shape-rendering="crispEdges"/>
<path d="M364.5,7.5L370.0,13" stroke="#d0a828" stroke-width="2.6" stroke-linecap="round"/>
<circle cx="360.5" cy="3.5" r="5.4" fill="#d8ecfc" stroke="#4888d0" stroke-width="1.2"/>
<path d="M357.5,3.8h6" stroke="#3878c8" stroke-width="1.5"/>
<path d="M360.5,0.8v6" stroke="#3878c8" stroke-width="1.5"/>
<path d="M393,7.5L398.5,13" stroke="#d0a828" stroke-width="2.6" stroke-linecap="round"/>
<circle cx="389" cy="3.5" r="5.4" fill="#d8ecfc" stroke="#4888d0" stroke-width="1.2"/>
<path d="M386,3.8h6" stroke="#3878c8" stroke-width="1.5"/>
<rect x="411.5" y="-0.5" width="7.5" height="6" fill="#48a838"/><rect x="419.5" y="-0.5" width="7.5" height="6" fill="#3868d8"/><rect x="411.5" y="6.5" width="7.5" height="7" fill="#3868d8"/><rect x="419.5" y="6.5" width="7.5" height="7" fill="#48a838"/><rect x="413" y="2" width="4.5" height="1.6" fill="#e8f8e0"/><rect x="421" y="2" width="4.5" height="1.6" fill="#e0ecff"/><rect x="413" y="9.5" width="4.5" height="1.8" fill="#e0ecff"/><rect x="421" y="9.5" width="4.5" height="1.8" fill="#e8f8e0"/>
<rect x="436" y="0" width="1" height="16" fill="#a0a0a0" shape-rendering="crispEdges"/><rect x="437" y="0" width="1" height="16" fill="#fdfdfd" shape-rendering="crispEdges"/>
<rect x="441" y="0" width="25" height="16" fill="#f9f9f9"/>
<path d="M450,0V13.5M447,11.8H460" stroke="#505050" stroke-width="1" fill="none"/><path d="M461.5,11.8l-2.5,-1.8v3.6z" fill="#505050"/>
<path d="M454,2.5L458.8,5.7L454,9Z" fill="#50d050" stroke="#189018" stroke-width="0.9"/>
<rect x="469" y="0" width="1" height="16" fill="#a0a0a0" shape-rendering="crispEdges"/><rect x="470" y="0" width="1" height="16" fill="#fdfdfd" shape-rendering="crispEdges"/>
<rect x="471" y="0" width="23" height="16" fill="#f9f9f9"/>
<path d="M477.5,0V13.5M475,11.8H488" stroke="#505050" stroke-width="1" fill="none"/><path d="M489.5,11.8l-2.5,-1.8v3.6z" fill="#505050"/>
<path d="M483.5,0V9.5" stroke="#2060c0" stroke-width="1.1"/><path d="M484.6,5.6l3,-2.2v1.5h1.6v1.4h-1.6v1.5z" fill="#e04010"/>
<rect x="498" y="0" width="1" height="16" fill="#a0a0a0" shape-rendering="crispEdges"/><rect x="499" y="0" width="1" height="16" fill="#fdfdfd" shape-rendering="crispEdges"/>
<path d="M508,-1h8l3,3v9h-11z" fill="#fff" stroke="#808080" stroke-width="1"/><path d="M510,3h6M510,5.5h6" stroke="#a0a0a0" stroke-width="1"/>
<path d="M516.4,4.5h3.2v3.9h3.9v3.2h-3.9v3.9h-3.2v-3.9h-3.9v-3.2h3.9z" fill="#28d028" stroke="#0c8a0c" stroke-width="0.8"/>
<path d="M529.5,5h6l-3,3z" fill="#000"/>
<circle cx="554" cy="5.5" r="7" fill="#fbfdff" stroke="#2868c8" stroke-width="2"/><path d="M554,1.5V6H557.5" stroke="#707070" stroke-width="1" fill="none"/>
<path d="M568.5,5h6l-3,3z" fill="#000"/>
<rect x="585.5" y="-1" width="15" height="13.5" fill="#fff" stroke="#5080c8" stroke-width="1"/><rect x="585.5" y="-1" width="15" height="2.5" fill="#3c70d0"/><path d="M587.5,5.5l3,-1l3,0.5l3,-1.5l2,0" stroke="#b03020" stroke-width="1" fill="none"/><path d="M587.5,10.5l3,-1l2,1l3,-2l2.5,2" stroke="#30a030" stroke-width="1" fill="none"/><path d="M586,7.2h14" stroke="#a0b8e0" stroke-width="0.8"/>
<path d="M607.5,5h6l-3,3z" fill="#000"/>
<rect x="619" y="0" width="1" height="16" fill="#a0a0a0" shape-rendering="crispEdges"/><rect x="620" y="0" width="1" height="16" fill="#fdfdfd" shape-rendering="crispEdges"/>
<rect x="623" y="0" width="3" height="1" fill="#b0b0b0" shape-rendering="crispEdges"/><rect x="623" y="2" width="3" height="1" fill="#b0b0b0" shape-rendering="crispEdges"/><rect x="623" y="4" width="3" height="1" fill="#b0b0b0" shape-rendering="crispEdges"/><rect x="623" y="6" width="3" height="1" fill="#b0b0b0" shape-rendering="crispEdges"/><rect x="623" y="8" width="3" height="1" fill="#b0b0b0" shape-rendering="crispEdges"/><rect x="623" y="10" width="3" height="1" fill="#b0b0b0" shape-rendering="crispEdges"/><rect x="623" y="12" width="3" height="1" fill="#b0b0b0" shape-rendering="crispEdges"/><rect x="623" y="14" width="3" height="1" fill="#b0b0b0" shape-rendering="crispEdges"/>
<rect x="629" y="0" width="1" height="16" fill="#a0a0a0" shape-rendering="crispEdges"/><rect x="630" y="0" width="1" height="16" fill="#fdfdfd" shape-rendering="crispEdges"/>
<rect x="631" y="0" width="23" height="16" fill="#f9f9f9"/>
<path d="M637.3,-1V10.6L639.9,8.2L642.3,13.4L644.2,12.5L641.8,7.5H645.6Z" fill="#404040"/>
<path d="M662,6.5H668M671,6.5H677M669.5,0V5M669.5,8V13.5" stroke="#505050" stroke-width="1" fill="none" shape-rendering="crispEdges"/>
<rect x="686" y="0" width="1" height="16" fill="#a0a0a0" shape-rendering="crispEdges"/><rect x="687" y="0" width="1" height="16" fill="#fdfdfd" shape-rendering="crispEdges"/>
<path d="M703.5,0V12.5M726,6.5H738" stroke="#505050" stroke-width="1" fill="none" shape-rendering="crispEdges"/>
<path d="M754,12.8L766,1" stroke="#505050" stroke-width="1.1" fill="none"/>
<path d="M780,9L791,0M782.5,12.5L794.5,2.5M783,6.5L784,11.5M786,4L787,9M789,1.5L790,6.5M792,-0.5L793,4" stroke="#505050" stroke-width="1" fill="none"/>
<path d="M795,10.5H791.5V14.5H795M791.5,12.5H794.5" stroke="#404040" stroke-width="1" fill="none"/>
<path d="M808.5,2.5H822M808.5,6.5H822M808.5,10.5H818" stroke="#606060" stroke-width="1" stroke-dasharray="1,1" fill="none" shape-rendering="crispEdges"/>
<path d="M823,10.5H819.5V14.8M819.5,12.5H822.5" stroke="#404040" stroke-width="1" fill="none"/>
<text x="839.3" y="10.6" font-size="10.5" font-weight="bold" fill="#585858" textLength="8.4" lengthAdjust="spacingAndGlyphs">A</text>
<rect x="866.5" y="0.5" width="11" height="12" fill="none" stroke="#505050" stroke-width="1" stroke-dasharray="1,1" shape-rendering="crispEdges"/>
<text x="869" y="10.6" font-size="10.5" font-weight="bold" fill="#585858" textLength="6.4" lengthAdjust="spacingAndGlyphs">T</text>
<path d="M896,-0.5l2.4,2.4l-2.4,2.4l-2.4,-2.4z M903.6,7.6l2.4,2.4l-2.4,2.4l-2.4,-2.4z" fill="#404040"/><path d="M896,6l2,2.5l4,-4.5" stroke="#404040" stroke-width="1.3" fill="none"/>
<path d="M913,5h6l-3,3z" fill="#000"/>
<rect x="925" y="0" width="1" height="16" fill="#a0a0a0" shape-rendering="crispEdges"/><rect x="926" y="0" width="1" height="16" fill="#fdfdfd" shape-rendering="crispEdges"/>
<rect x="929" y="0" width="3" height="1" fill="#b0b0b0" shape-rendering="crispEdges"/><rect x="929" y="2" width="3" height="1" fill="#b0b0b0" shape-rendering="crispEdges"/><rect x="929" y="4" width="3" height="1" fill="#b0b0b0" shape-rendering="crispEdges"/><rect x="929" y="6" width="3" height="1" fill="#b0b0b0" shape-rendering="crispEdges"/><rect x="929" y="8" width="3" height="1" fill="#b0b0b0" shape-rendering="crispEdges"/><rect x="929" y="10" width="3" height="1" fill="#b0b0b0" shape-rendering="crispEdges"/><rect x="929" y="12" width="3" height="1" fill="#b0b0b0" shape-rendering="crispEdges"/><rect x="929" y="14" width="3" height="1" fill="#b0b0b0" shape-rendering="crispEdges"/>
<text x="940.5" y="9.7" font-size="9" fill="#404040" textLength="12.5" lengthAdjust="spacingAndGlyphs">M1</text>
<text x="968.5" y="9.7" font-size="9" fill="#404040" textLength="12.5" lengthAdjust="spacingAndGlyphs">M5</text>
<text x="994.5" y="9.7" font-size="9" fill="#404040" textLength="17.5" lengthAdjust="spacingAndGlyphs">M15</text>
<text x="1022.5" y="9.7" font-size="9" fill="#404040" textLength="17.5" lengthAdjust="spacingAndGlyphs">M30</text>
<text x="1053.5" y="9.7" font-size="9" fill="#404040" textLength="11.5" lengthAdjust="spacingAndGlyphs">H1</text>
<rect x="1075" y="0" width="1" height="16" fill="#909090" shape-rendering="crispEdges"/>
<rect x="1076" y="0" width="24" height="16" fill="#f9f9f9"/>
<text x="1080.5" y="9.7" font-size="9" fill="#404040" textLength="12.5" lengthAdjust="spacingAndGlyphs">H4</text>
<text x="1109.5" y="9.7" font-size="9" fill="#404040" textLength="11.5" lengthAdjust="spacingAndGlyphs">D1</text>
<text x="1137" y="9.7" font-size="9" fill="#404040" textLength="14" lengthAdjust="spacingAndGlyphs">W1</text>
<text x="1163.5" y="9.7" font-size="9" fill="#404040" textLength="15.0" lengthAdjust="spacingAndGlyphs">MN</text>
<rect x="1186" y="0" width="1" height="16" fill="#a0a0a0" shape-rendering="crispEdges"/><rect x="1187" y="0" width="1" height="16" fill="#fdfdfd" shape-rendering="crispEdges"/>
<path d="M1653.8,6.4L1648.8,11.4" stroke="#2458d0" stroke-width="2.2" stroke-linecap="round"/><circle cx="1656.7" cy="3.3" r="3.9" fill="#f4f8ff" stroke="#2c64dc" stroke-width="1.3"/>
<path d="M1673.2,8.3a5.6,4.4 0 1 1 5,4.4l-2,2l0.2,-2.3a5.6,4.4 0 0 1 -3.2,-4.1z" fill="#e6e8f0" stroke="#b8b8c0" stroke-width="0.9"/>
<circle cx="1687.4" cy="3.2" r="8.3" fill="#e03a22"/>
<text x="1687.2" y="7.6" font-size="12" font-weight="bold" font-family='"Liberation Serif", serif' fill="#fff" text-anchor="middle">1</text>
</svg>
<div style="position:absolute;left:0;top:42px;width:217px;height:57px;font-family:"Liberation Sans", sans-serif;">
<div style="position:absolute;left:0;top:57px;width:217px;height:2px;background:#fff;"></div>
<div style="position:absolute;left:0;top:0;width:217px;height:57px;background:linear-gradient(#f85050 0px,#e63c3c 14px,#d62626 24px,#c81818 36px,#a80000 57px);"></div>
<div style="position:absolute;left:0;top:0;width:217px;height:1px;background:#c00808;"></div>
<div style="position:absolute;left:49px;top:0;width:1px;height:24px;background:#c00808;"></div>
<div style="position:absolute;left:165px;top:0;width:1px;height:24px;background:#c00808;"></div>
<div style="position:absolute;left:216px;top:0;width:1px;height:57px;background:#b80808;"></div>
<div style="position:absolute;left:50px;top:0;width:115px;height:24px;background:#fff;"></div>
<div style="position:absolute;left:107px;top:24px;width:2px;height:33px;background:#fff;"></div>
<div style="position:absolute;left:106px;top:24px;width:1px;height:33px;background:#b00808;"></div>
<div style="position:absolute;left:109px;top:24px;width:1px;height:33px;background:#b00808;"></div>
<div style="position:absolute;left:2px;top:22px;width:44px;height:1px;background:#a40000;"></div>
<div style="position:absolute;left:2px;top:23px;width:44px;height:1px;background:#f49090;"></div>
<div style="position:absolute;left:169px;top:22px;width:44px;height:1px;background:#a40000;"></div>
<div style="position:absolute;left:169px;top:23px;width:44px;height:1px;background:#f49090;"></div>
<div style="position:absolute;left:52px;top:0px;width:111px;height:22px;border:1px solid #a8a8b0;background:#fff;box-sizing:border-box;"></div>
<div style="position:absolute;left:54px;top:2px;width:20px;height:19px;background:linear-gradient(#f4f4f4,#e4e4e4 45%,#d0d0d0 46%,#dcdcdc);border-right:1px solid #b0b0b8;box-sizing:border-box;"></div>
<div style="position:absolute;left:142px;top:2px;width:20px;height:19px;background:linear-gradient(#f4f4f4,#e4e4e4 45%,#d0d0d0 46%,#dcdcdc);border-left:1px solid #b0b0b8;box-sizing:border-box;"></div>
<svg style="position:absolute;left:0;top:0" width="217" height="57" viewBox="0 0 217 57" text-rendering="geometricPrecision">
<path d="M60,9h5l-2.5,3.2z" fill="#4858c0"/>
<path d="M149.2,12.2h5l-2.5,-3.2z" fill="#4858c0"/>
<g font-family='"Liberation Sans", sans-serif'>
<text x="10.2" y="16" font-size="12.4" fill="#ffecec" textLength="25.6" lengthAdjust="spacingAndGlyphs">SELL</text>
<text x="178.4" y="16" font-size="12.4" fill="#ffecec" textLength="23.2" lengthAdjust="spacingAndGlyphs">BUY</text>
<text x="137.4" y="15.4" font-size="13" fill="#000" text-anchor="end">1.00</text>
<text x="14" y="52" font-size="12.4" font-weight="bold" fill="#fff" textLength="34.6" lengthAdjust="spacingAndGlyphs">24816</text>
<text x="124.6" y="52" font-size="12.4" font-weight="bold" fill="#fff" textLength="34" lengthAdjust="spacingAndGlyphs">24830</text>
<rect x="53.6" y="48.5" width="3.8" height="3.5" fill="#fff"/>
<rect x="164" y="48.5" width="3.8" height="3.5" fill="#fff"/>
<text x="60.2" y="52" font-size="33.5" fill="#fff" textLength="16" lengthAdjust="spacingAndGlyphs">5</text>
<text x="170.8" y="52" font-size="33.5" fill="#fff" textLength="16" lengthAdjust="spacingAndGlyphs">5</text>
</g></svg>
</div>
</body></html>
